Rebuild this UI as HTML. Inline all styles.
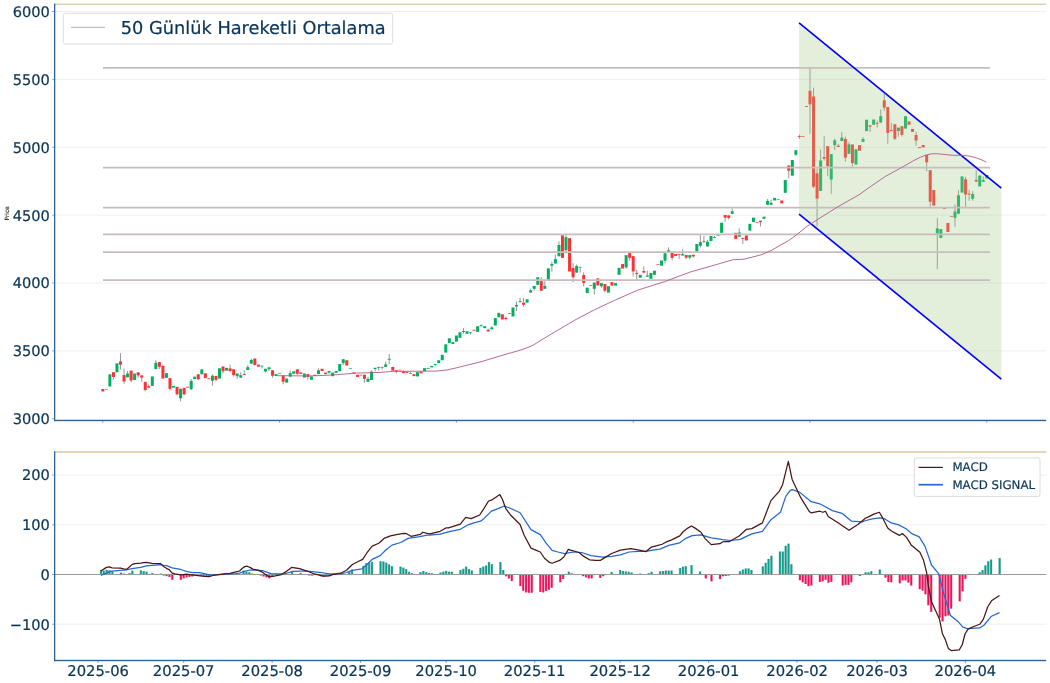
<!DOCTYPE html>
<html lang="tr"><head><meta charset="utf-8"><title>Grafik</title>
<style>html,body{margin:0;padding:0;background:#fff}svg{display:block}</style></head>
<body>
<svg width="1050" height="683" viewBox="0 0 1050 683" font-family="'DejaVu Sans', 'Liberation Sans', sans-serif" text-rendering="geometricPrecision">
<rect width="1050" height="683" fill="#fff"/>
<g id="price">
<line x1="54.8" x2="1046.2" y1="350.92" y2="350.92" stroke="#efefef" stroke-width="1"/>
<line x1="54.8" x2="1046.2" y1="283.03" y2="283.03" stroke="#efefef" stroke-width="1"/>
<line x1="54.8" x2="1046.2" y1="215.15" y2="215.15" stroke="#efefef" stroke-width="1"/>
<line x1="54.8" x2="1046.2" y1="147.27" y2="147.27" stroke="#efefef" stroke-width="1"/>
<line x1="54.8" x2="1046.2" y1="79.38" y2="79.38" stroke="#efefef" stroke-width="1"/>
<line x1="54.8" x2="1046.2" y1="11.50" y2="11.50" stroke="#efefef" stroke-width="1"/>
<g id="candles">
<rect x="101.30" y="389.05" width="3.0" height="2.38" fill="#fe3032"/>
<rect x="104.84" y="388.95" width="3.0" height="0.70" fill="#00b060"/>
<rect x="108.37" y="374.29" width="3.0" height="12.19" fill="#00b060"/>
<line x1="113.41" x2="113.41" y1="372.19" y2="379.52" stroke="#8a8a8a" stroke-width="0.9"/>
<rect x="111.91" y="372.19" width="3.0" height="4.76" fill="#fe3032"/>
<rect x="115.44" y="363.33" width="3.0" height="9.05" fill="#00b060"/>
<line x1="120.48" x2="120.48" y1="353.14" y2="369.52" stroke="#8a8a8a" stroke-width="0.9"/>
<rect x="118.98" y="361.43" width="3.0" height="3.33" fill="#fe3032"/>
<line x1="124.02" x2="124.02" y1="368.57" y2="383.81" stroke="#8a8a8a" stroke-width="0.9"/>
<rect x="122.52" y="375.05" width="3.0" height="6.38" fill="#fe3032"/>
<line x1="127.55" x2="127.55" y1="370.95" y2="377.33" stroke="#8a8a8a" stroke-width="0.9"/>
<rect x="126.05" y="373.52" width="3.0" height="3.81" fill="#00b060"/>
<line x1="131.09" x2="131.09" y1="370.67" y2="382.38" stroke="#8a8a8a" stroke-width="0.9"/>
<rect x="129.59" y="370.67" width="3.0" height="9.81" fill="#fe3032"/>
<rect x="133.12" y="373.52" width="3.0" height="6.48" fill="#00b060"/>
<line x1="138.16" x2="138.16" y1="372.38" y2="377.62" stroke="#8a8a8a" stroke-width="0.9"/>
<rect x="136.66" y="372.38" width="3.0" height="3.05" fill="#fe3032"/>
<line x1="141.70" x2="141.70" y1="375.43" y2="381.9" stroke="#8a8a8a" stroke-width="0.9"/>
<rect x="140.20" y="375.43" width="3.0" height="2.19" fill="#fe3032"/>
<line x1="145.23" x2="145.23" y1="381.9" y2="391.43" stroke="#8a8a8a" stroke-width="0.9"/>
<rect x="143.73" y="381.9" width="3.0" height="8.10" fill="#fe3032"/>
<line x1="148.77" x2="148.77" y1="384.29" y2="387.62" stroke="#8a8a8a" stroke-width="0.9"/>
<rect x="147.27" y="386.19" width="3.0" height="1.43" fill="#fe3032"/>
<rect x="150.80" y="376.38" width="3.0" height="9.52" fill="#00b060"/>
<line x1="155.84" x2="155.84" y1="360.19" y2="369.05" stroke="#8a8a8a" stroke-width="0.9"/>
<rect x="154.34" y="362.86" width="3.0" height="6.19" fill="#00b060"/>
<line x1="159.38" x2="159.38" y1="362.1" y2="369.05" stroke="#8a8a8a" stroke-width="0.9"/>
<rect x="157.88" y="362.1" width="3.0" height="4.76" fill="#fe3032"/>
<rect x="161.41" y="365.71" width="3.0" height="12.86" fill="#fe3032"/>
<rect x="164.95" y="373.14" width="3.0" height="4.76" fill="#00b060"/>
<line x1="169.98" x2="169.98" y1="378.1" y2="390.48" stroke="#8a8a8a" stroke-width="0.9"/>
<rect x="168.48" y="378.1" width="3.0" height="10.76" fill="#fe3032"/>
<rect x="172.02" y="385.9" width="3.0" height="1.72" fill="#00b060"/>
<line x1="177.06" x2="177.06" y1="386.86" y2="395.24" stroke="#8a8a8a" stroke-width="0.9"/>
<rect x="175.56" y="386.86" width="3.0" height="7.43" fill="#fe3032"/>
<line x1="180.59" x2="180.59" y1="388.76" y2="401.43" stroke="#8a8a8a" stroke-width="0.9"/>
<rect x="179.09" y="388.76" width="3.0" height="9.53" fill="#00b060"/>
<line x1="184.13" x2="184.13" y1="387.9" y2="395.24" stroke="#8a8a8a" stroke-width="0.9"/>
<rect x="182.63" y="387.9" width="3.0" height="6.39" fill="#fe3032"/>
<rect x="186.16" y="386.67" width="3.0" height="0.95" fill="#fe3032"/>
<line x1="191.20" x2="191.20" y1="379.05" y2="390.48" stroke="#8a8a8a" stroke-width="0.9"/>
<rect x="189.70" y="380.95" width="3.0" height="8.10" fill="#00b060"/>
<rect x="193.24" y="376.67" width="3.0" height="2.38" fill="#00b060"/>
<line x1="198.27" x2="198.27" y1="374.29" y2="380.0" stroke="#8a8a8a" stroke-width="0.9"/>
<rect x="196.77" y="374.29" width="3.0" height="4.95" fill="#fe3032"/>
<rect x="200.31" y="369.33" width="3.0" height="4.96" fill="#00b060"/>
<rect x="203.84" y="373.33" width="3.0" height="4.77" fill="#fe3032"/>
<rect x="207.38" y="378.38" width="3.0" height="0.86" fill="#fe3032"/>
<line x1="212.42" x2="212.42" y1="374.48" y2="385.71" stroke="#8a8a8a" stroke-width="0.9"/>
<rect x="210.92" y="375.71" width="3.0" height="5.05" fill="#00b060"/>
<line x1="215.95" x2="215.95" y1="376.0" y2="381.43" stroke="#8a8a8a" stroke-width="0.9"/>
<rect x="214.45" y="376.0" width="3.0" height="3.81" fill="#fe3032"/>
<rect x="217.99" y="368.29" width="3.0" height="10.28" fill="#00b060"/>
<line x1="223.02" x2="223.02" y1="366.48" y2="373.33" stroke="#8a8a8a" stroke-width="0.9"/>
<rect x="221.52" y="366.48" width="3.0" height="4.76" fill="#fe3032"/>
<rect x="225.06" y="367.81" width="3.0" height="2.86" fill="#00b060"/>
<line x1="230.10" x2="230.10" y1="364.76" y2="371.24" stroke="#8a8a8a" stroke-width="0.9"/>
<rect x="228.60" y="368.38" width="3.0" height="2.86" fill="#fe3032"/>
<line x1="233.63" x2="233.63" y1="369.33" y2="376.67" stroke="#8a8a8a" stroke-width="0.9"/>
<rect x="232.13" y="369.33" width="3.0" height="5.72" fill="#fe3032"/>
<line x1="237.17" x2="237.17" y1="373.52" y2="378.86" stroke="#8a8a8a" stroke-width="0.9"/>
<rect x="235.67" y="373.52" width="3.0" height="2.67" fill="#00b060"/>
<line x1="240.70" x2="240.70" y1="372.38" y2="377.62" stroke="#8a8a8a" stroke-width="0.9"/>
<rect x="239.20" y="375.24" width="3.0" height="2.38" fill="#00b060"/>
<line x1="244.24" x2="244.24" y1="370.48" y2="375.05" stroke="#8a8a8a" stroke-width="0.9"/>
<rect x="242.74" y="374.1" width="3.0" height="0.95" fill="#fe3032"/>
<line x1="247.78" x2="247.78" y1="365.24" y2="370.0" stroke="#8a8a8a" stroke-width="0.9"/>
<rect x="246.28" y="367.14" width="3.0" height="2.86" fill="#00b060"/>
<line x1="251.31" x2="251.31" y1="358.57" y2="363.62" stroke="#8a8a8a" stroke-width="0.9"/>
<rect x="249.81" y="360.0" width="3.0" height="3.62" fill="#00b060"/>
<line x1="254.85" x2="254.85" y1="358.57" y2="365.71" stroke="#8a8a8a" stroke-width="0.9"/>
<rect x="253.35" y="358.57" width="3.0" height="6.38" fill="#fe3032"/>
<rect x="256.88" y="364.57" width="3.0" height="2.10" fill="#fe3032"/>
<line x1="261.92" x2="261.92" y1="365.71" y2="368.57" stroke="#8a8a8a" stroke-width="0.9"/>
<rect x="260.42" y="365.71" width="3.0" height="0.77" fill="#00b060"/>
<line x1="265.46" x2="265.46" y1="368.76" y2="372.38" stroke="#8a8a8a" stroke-width="0.9"/>
<rect x="263.96" y="368.76" width="3.0" height="2.67" fill="#00b060"/>
<line x1="268.99" x2="268.99" y1="366.67" y2="370.95" stroke="#8a8a8a" stroke-width="0.9"/>
<rect x="267.49" y="367.43" width="3.0" height="1.62" fill="#00b060"/>
<line x1="272.53" x2="272.53" y1="370.29" y2="377.62" stroke="#8a8a8a" stroke-width="0.9"/>
<rect x="271.03" y="370.29" width="3.0" height="5.42" fill="#fe3032"/>
<rect x="274.56" y="374.1" width="3.0" height="1.90" fill="#00b060"/>
<rect x="278.10" y="373.14" width="3.0" height="0.70" fill="#00b060"/>
<line x1="283.14" x2="283.14" y1="375.71" y2="384.29" stroke="#8a8a8a" stroke-width="0.9"/>
<rect x="281.64" y="375.71" width="3.0" height="6.00" fill="#fe3032"/>
<rect x="285.17" y="378.57" width="3.0" height="4.10" fill="#00b060"/>
<line x1="290.21" x2="290.21" y1="370.48" y2="376.67" stroke="#8a8a8a" stroke-width="0.9"/>
<rect x="288.71" y="373.14" width="3.0" height="3.53" fill="#00b060"/>
<rect x="292.24" y="371.24" width="3.0" height="2.57" fill="#00b060"/>
<line x1="297.28" x2="297.28" y1="369.33" y2="374.76" stroke="#8a8a8a" stroke-width="0.9"/>
<rect x="295.78" y="369.33" width="3.0" height="4.48" fill="#fe3032"/>
<rect x="299.32" y="372.38" width="3.0" height="1.43" fill="#fe3032"/>
<rect x="302.85" y="373.52" width="3.0" height="4.10" fill="#00b060"/>
<line x1="307.89" x2="307.89" y1="374.1" y2="379.52" stroke="#8a8a8a" stroke-width="0.9"/>
<rect x="306.39" y="374.1" width="3.0" height="2.85" fill="#fe3032"/>
<rect x="309.92" y="376.38" width="3.0" height="3.43" fill="#00b060"/>
<rect x="313.46" y="374.76" width="3.0" height="1.24" fill="#fe3032"/>
<line x1="318.50" x2="318.50" y1="368.38" y2="374.1" stroke="#8a8a8a" stroke-width="0.9"/>
<rect x="317.00" y="370.29" width="3.0" height="3.81" fill="#00b060"/>
<rect x="320.53" y="368.76" width="3.0" height="2.19" fill="#fe3032"/>
<rect x="324.07" y="372.57" width="3.0" height="1.53" fill="#fe3032"/>
<line x1="329.10" x2="329.10" y1="370.95" y2="373.81" stroke="#8a8a8a" stroke-width="0.9"/>
<rect x="327.60" y="370.95" width="3.0" height="1.62" fill="#00b060"/>
<rect x="331.14" y="372.57" width="3.0" height="3.62" fill="#00b060"/>
<rect x="334.68" y="370.95" width="3.0" height="1.91" fill="#00b060"/>
<rect x="338.21" y="364.0" width="3.0" height="7.24" fill="#00b060"/>
<line x1="343.25" x2="343.25" y1="359.24" y2="364.95" stroke="#8a8a8a" stroke-width="0.9"/>
<rect x="341.75" y="359.24" width="3.0" height="3.81" fill="#00b060"/>
<rect x="345.28" y="360.19" width="3.0" height="5.33" fill="#fe3032"/>
<rect x="348.82" y="368.19" width="3.0" height="0.76" fill="#00b060"/>
<rect x="352.36" y="372.38" width="3.0" height="1.14" fill="#fe3032"/>
<rect x="355.89" y="374.76" width="3.0" height="2.19" fill="#fe3032"/>
<rect x="359.43" y="374.76" width="3.0" height="0.70" fill="#fe3032"/>
<line x1="364.46" x2="364.46" y1="374.76" y2="382.86" stroke="#8a8a8a" stroke-width="0.9"/>
<rect x="362.96" y="374.76" width="3.0" height="4.10" fill="#fe3032"/>
<line x1="368.00" x2="368.00" y1="376.67" y2="381.9" stroke="#8a8a8a" stroke-width="0.9"/>
<rect x="366.50" y="378.86" width="3.0" height="3.04" fill="#00b060"/>
<line x1="371.54" x2="371.54" y1="370.29" y2="380.0" stroke="#8a8a8a" stroke-width="0.9"/>
<rect x="370.04" y="371.62" width="3.0" height="8.38" fill="#00b060"/>
<line x1="375.07" x2="375.07" y1="367.81" y2="371.43" stroke="#8a8a8a" stroke-width="0.9"/>
<rect x="373.57" y="367.81" width="3.0" height="1.24" fill="#00b060"/>
<line x1="378.61" x2="378.61" y1="366.95" y2="370.48" stroke="#8a8a8a" stroke-width="0.9"/>
<rect x="377.11" y="366.95" width="3.0" height="0.86" fill="#00b060"/>
<line x1="382.14" x2="382.14" y1="366.9" y2="369.48" stroke="#8a8a8a" stroke-width="0.9"/>
<rect x="380.64" y="366.9" width="3.0" height="0.70" fill="#fe3032"/>
<line x1="385.68" x2="385.68" y1="361.67" y2="366.9" stroke="#8a8a8a" stroke-width="0.9"/>
<rect x="384.18" y="364.33" width="3.0" height="2.57" fill="#00b060"/>
<line x1="389.22" x2="389.22" y1="354.05" y2="364.05" stroke="#8a8a8a" stroke-width="0.9"/>
<rect x="387.72" y="358.81" width="3.0" height="0.95" fill="#00b060"/>
<rect x="391.25" y="366.9" width="3.0" height="3.81" fill="#fe3032"/>
<line x1="396.29" x2="396.29" y1="370.24" y2="373.57" stroke="#8a8a8a" stroke-width="0.9"/>
<rect x="394.79" y="370.24" width="3.0" height="1.43" fill="#fe3032"/>
<rect x="398.32" y="369.76" width="3.0" height="0.70" fill="#fe3032"/>
<line x1="403.36" x2="403.36" y1="370.24" y2="373.1" stroke="#8a8a8a" stroke-width="0.9"/>
<rect x="401.86" y="371.38" width="3.0" height="1.72" fill="#fe3032"/>
<rect x="405.40" y="371.67" width="3.0" height="1.23" fill="#fe3032"/>
<line x1="410.43" x2="410.43" y1="371.95" y2="373.57" stroke="#8a8a8a" stroke-width="0.9"/>
<rect x="408.93" y="373.1" width="3.0" height="0.70" fill="#fe3032"/>
<rect x="412.47" y="374.24" width="3.0" height="1.90" fill="#fe3032"/>
<rect x="416.00" y="372.14" width="3.0" height="4.29" fill="#00b060"/>
<rect x="419.54" y="371.67" width="3.0" height="1.62" fill="#fe3032"/>
<rect x="423.08" y="368.14" width="3.0" height="3.05" fill="#00b060"/>
<rect x="426.61" y="367.86" width="3.0" height="0.95" fill="#00b060"/>
<rect x="430.15" y="365.95" width="3.0" height="1.43" fill="#00b060"/>
<line x1="435.18" x2="435.18" y1="364.05" y2="366.43" stroke="#8a8a8a" stroke-width="0.9"/>
<rect x="433.68" y="364.05" width="3.0" height="0.95" fill="#00b060"/>
<rect x="437.22" y="360.24" width="3.0" height="2.86" fill="#00b060"/>
<rect x="440.76" y="354.81" width="3.0" height="5.43" fill="#00b060"/>
<rect x="444.29" y="344.33" width="3.0" height="8.29" fill="#00b060"/>
<rect x="447.83" y="338.33" width="3.0" height="4.77" fill="#00b060"/>
<rect x="451.36" y="342.14" width="3.0" height="1.91" fill="#00b060"/>
<rect x="454.90" y="335.48" width="3.0" height="6.19" fill="#00b060"/>
<rect x="458.44" y="332.33" width="3.0" height="5.53" fill="#00b060"/>
<line x1="463.47" x2="463.47" y1="327.86" y2="333.57" stroke="#8a8a8a" stroke-width="0.9"/>
<rect x="461.97" y="331.0" width="3.0" height="0.95" fill="#fe3032"/>
<rect x="465.51" y="331.19" width="3.0" height="2.67" fill="#00b060"/>
<line x1="470.54" x2="470.54" y1="332.33" y2="334.52" stroke="#8a8a8a" stroke-width="0.9"/>
<rect x="469.04" y="332.33" width="3.0" height="0.77" fill="#00b060"/>
<rect x="472.58" y="329.76" width="3.0" height="0.95" fill="#fe3032"/>
<rect x="476.12" y="326.19" width="3.0" height="5.71" fill="#00b060"/>
<line x1="481.15" x2="481.15" y1="324.29" y2="326.19" stroke="#8a8a8a" stroke-width="0.9"/>
<rect x="479.65" y="325.24" width="3.0" height="0.95" fill="#00b060"/>
<rect x="483.19" y="326.19" width="3.0" height="1.91" fill="#00b060"/>
<line x1="488.22" x2="488.22" y1="328.57" y2="331.43" stroke="#8a8a8a" stroke-width="0.9"/>
<rect x="486.72" y="329.71" width="3.0" height="1.72" fill="#fe3032"/>
<line x1="491.76" x2="491.76" y1="326.19" y2="329.33" stroke="#8a8a8a" stroke-width="0.9"/>
<rect x="490.26" y="327.43" width="3.0" height="1.90" fill="#00b060"/>
<rect x="493.80" y="318.1" width="3.0" height="7.42" fill="#00b060"/>
<rect x="497.33" y="312.86" width="3.0" height="4.47" fill="#00b060"/>
<rect x="500.87" y="314.29" width="3.0" height="5.23" fill="#fe3032"/>
<line x1="505.90" x2="505.90" y1="316.67" y2="320.48" stroke="#8a8a8a" stroke-width="0.9"/>
<rect x="504.40" y="317.9" width="3.0" height="1.15" fill="#fe3032"/>
<rect x="507.94" y="313.14" width="3.0" height="0.70" fill="#fe3032"/>
<rect x="511.48" y="307.43" width="3.0" height="9.05" fill="#00b060"/>
<line x1="516.51" x2="516.51" y1="301.43" y2="310.95" stroke="#8a8a8a" stroke-width="0.9"/>
<rect x="515.01" y="304.95" width="3.0" height="1.53" fill="#00b060"/>
<line x1="520.05" x2="520.05" y1="297.9" y2="302.86" stroke="#8a8a8a" stroke-width="0.9"/>
<rect x="518.55" y="301.14" width="3.0" height="0.76" fill="#00b060"/>
<line x1="523.58" x2="523.58" y1="298.1" y2="306.86" stroke="#8a8a8a" stroke-width="0.9"/>
<rect x="522.08" y="302.67" width="3.0" height="2.09" fill="#fe3032"/>
<rect x="525.62" y="299.24" width="3.0" height="3.43" fill="#00b060"/>
<line x1="530.66" x2="530.66" y1="288.57" y2="292.57" stroke="#8a8a8a" stroke-width="0.9"/>
<rect x="529.16" y="290.29" width="3.0" height="2.28" fill="#00b060"/>
<line x1="534.19" x2="534.19" y1="285.95" y2="290.71" stroke="#8a8a8a" stroke-width="0.9"/>
<rect x="532.69" y="285.95" width="3.0" height="2.86" fill="#00b060"/>
<rect x="536.23" y="277.19" width="3.0" height="7.62" fill="#00b060"/>
<line x1="541.26" x2="541.26" y1="276.9" y2="290.71" stroke="#8a8a8a" stroke-width="0.9"/>
<rect x="539.76" y="281.19" width="3.0" height="9.52" fill="#fe3032"/>
<line x1="544.80" x2="544.80" y1="281.19" y2="288.81" stroke="#8a8a8a" stroke-width="0.9"/>
<rect x="543.30" y="285.95" width="3.0" height="2.86" fill="#00b060"/>
<rect x="546.84" y="268.33" width="3.0" height="11.43" fill="#00b060"/>
<line x1="551.87" x2="551.87" y1="261.67" y2="271.67" stroke="#8a8a8a" stroke-width="0.9"/>
<rect x="550.37" y="264.05" width="3.0" height="1.71" fill="#00b060"/>
<line x1="555.41" x2="555.41" y1="254.52" y2="263.57" stroke="#8a8a8a" stroke-width="0.9"/>
<rect x="553.91" y="259.1" width="3.0" height="4.47" fill="#00b060"/>
<line x1="558.94" x2="558.94" y1="241.38" y2="256.24" stroke="#8a8a8a" stroke-width="0.9"/>
<rect x="557.44" y="245.0" width="3.0" height="11.24" fill="#00b060"/>
<rect x="560.98" y="235.29" width="3.0" height="22.57" fill="#fe3032"/>
<line x1="566.02" x2="566.02" y1="234.52" y2="253.57" stroke="#8a8a8a" stroke-width="0.9"/>
<rect x="564.52" y="237.19" width="3.0" height="13.05" fill="#00b060"/>
<rect x="568.05" y="238.14" width="3.0" height="33.34" fill="#fe3032"/>
<line x1="573.09" x2="573.09" y1="263.1" y2="282.14" stroke="#8a8a8a" stroke-width="0.9"/>
<rect x="571.59" y="268.05" width="3.0" height="9.14" fill="#fe3032"/>
<line x1="576.62" x2="576.62" y1="264.52" y2="272.62" stroke="#8a8a8a" stroke-width="0.9"/>
<rect x="575.12" y="265.95" width="3.0" height="6.67" fill="#00b060"/>
<line x1="580.16" x2="580.16" y1="266.9" y2="272.62" stroke="#8a8a8a" stroke-width="0.9"/>
<rect x="578.66" y="266.9" width="3.0" height="0.70" fill="#00b060"/>
<line x1="583.70" x2="583.70" y1="272.14" y2="286.43" stroke="#8a8a8a" stroke-width="0.9"/>
<rect x="582.20" y="275.0" width="3.0" height="7.90" fill="#fe3032"/>
<rect x="585.73" y="287.67" width="3.0" height="5.43" fill="#00b060"/>
<rect x="589.27" y="285.0" width="3.0" height="0.70" fill="#fe3032"/>
<line x1="594.30" x2="594.30" y1="282.62" y2="294.52" stroke="#8a8a8a" stroke-width="0.9"/>
<rect x="592.80" y="282.62" width="3.0" height="6.19" fill="#00b060"/>
<rect x="596.34" y="278.33" width="3.0" height="7.15" fill="#fe3032"/>
<line x1="601.38" x2="601.38" y1="283.1" y2="287.86" stroke="#8a8a8a" stroke-width="0.9"/>
<rect x="599.88" y="283.1" width="3.0" height="3.14" fill="#00b060"/>
<line x1="604.91" x2="604.91" y1="284.05" y2="292.62" stroke="#8a8a8a" stroke-width="0.9"/>
<rect x="603.41" y="284.05" width="3.0" height="6.66" fill="#fe3032"/>
<rect x="606.95" y="286.24" width="3.0" height="6.38" fill="#00b060"/>
<rect x="610.48" y="282.14" width="3.0" height="3.53" fill="#fe3032"/>
<rect x="614.02" y="283.1" width="3.0" height="2.57" fill="#00b060"/>
<rect x="617.56" y="267.86" width="3.0" height="6.95" fill="#00b060"/>
<rect x="621.09" y="264.05" width="3.0" height="4.47" fill="#fe3032"/>
<line x1="626.13" x2="626.13" y1="255.19" y2="268.81" stroke="#8a8a8a" stroke-width="0.9"/>
<rect x="624.63" y="255.19" width="3.0" height="12.19" fill="#00b060"/>
<line x1="629.66" x2="629.66" y1="253.1" y2="260.71" stroke="#8a8a8a" stroke-width="0.9"/>
<rect x="628.16" y="253.1" width="3.0" height="4.76" fill="#fe3032"/>
<line x1="633.20" x2="633.20" y1="256.14" y2="276.43" stroke="#8a8a8a" stroke-width="0.9"/>
<rect x="631.70" y="256.14" width="3.0" height="15.24" fill="#fe3032"/>
<line x1="636.74" x2="636.74" y1="269.76" y2="279.76" stroke="#8a8a8a" stroke-width="0.9"/>
<rect x="635.24" y="272.9" width="3.0" height="1.15" fill="#fe3032"/>
<rect x="638.77" y="274.81" width="3.0" height="2.86" fill="#00b060"/>
<line x1="643.81" x2="643.81" y1="266.43" y2="272.62" stroke="#8a8a8a" stroke-width="0.9"/>
<rect x="642.31" y="271.0" width="3.0" height="1.62" fill="#fe3032"/>
<line x1="647.34" x2="647.34" y1="270.71" y2="276.71" stroke="#8a8a8a" stroke-width="0.9"/>
<rect x="645.84" y="275.48" width="3.0" height="1.23" fill="#00b060"/>
<rect x="649.38" y="272.9" width="3.0" height="5.91" fill="#00b060"/>
<rect x="652.92" y="270.71" width="3.0" height="4.10" fill="#00b060"/>
<rect x="656.45" y="264.05" width="3.0" height="0.70" fill="#fe3032"/>
<rect x="659.99" y="260.52" width="3.0" height="5.15" fill="#00b060"/>
<line x1="665.02" x2="665.02" y1="253.29" y2="263.57" stroke="#8a8a8a" stroke-width="0.9"/>
<rect x="663.52" y="253.29" width="3.0" height="7.42" fill="#00b060"/>
<line x1="668.56" x2="668.56" y1="247.38" y2="252.33" stroke="#8a8a8a" stroke-width="0.9"/>
<rect x="667.06" y="250.24" width="3.0" height="2.09" fill="#00b060"/>
<line x1="672.10" x2="672.10" y1="253.1" y2="260.24" stroke="#8a8a8a" stroke-width="0.9"/>
<rect x="670.60" y="253.1" width="3.0" height="4.76" fill="#fe3032"/>
<rect x="674.13" y="254.05" width="3.0" height="1.90" fill="#fe3032"/>
<line x1="679.17" x2="679.17" y1="254.33" y2="258.81" stroke="#8a8a8a" stroke-width="0.9"/>
<rect x="677.67" y="254.33" width="3.0" height="0.70" fill="#fe3032"/>
<line x1="682.70" x2="682.70" y1="248.81" y2="255.48" stroke="#8a8a8a" stroke-width="0.9"/>
<rect x="681.20" y="254.05" width="3.0" height="1.43" fill="#00b060"/>
<line x1="686.24" x2="686.24" y1="255.05" y2="259.05" stroke="#8a8a8a" stroke-width="0.9"/>
<rect x="684.74" y="255.05" width="3.0" height="2.57" fill="#fe3032"/>
<line x1="689.78" x2="689.78" y1="255.05" y2="259.05" stroke="#8a8a8a" stroke-width="0.9"/>
<rect x="688.28" y="255.05" width="3.0" height="2.57" fill="#00b060"/>
<line x1="693.31" x2="693.31" y1="254.76" y2="257.62" stroke="#8a8a8a" stroke-width="0.9"/>
<rect x="691.81" y="254.76" width="3.0" height="1.62" fill="#fe3032"/>
<rect x="695.35" y="244.0" width="3.0" height="7.43" fill="#00b060"/>
<line x1="700.38" x2="700.38" y1="235.24" y2="247.43" stroke="#8a8a8a" stroke-width="0.9"/>
<rect x="698.88" y="242.1" width="3.0" height="3.61" fill="#00b060"/>
<line x1="703.92" x2="703.92" y1="236.0" y2="243.05" stroke="#8a8a8a" stroke-width="0.9"/>
<rect x="702.42" y="241.14" width="3.0" height="0.70" fill="#fe3032"/>
<line x1="707.46" x2="707.46" y1="239.81" y2="246.48" stroke="#8a8a8a" stroke-width="0.9"/>
<rect x="705.96" y="241.71" width="3.0" height="4.77" fill="#00b060"/>
<rect x="709.49" y="236.0" width="3.0" height="5.14" fill="#00b060"/>
<line x1="714.53" x2="714.53" y1="236.0" y2="237.9" stroke="#8a8a8a" stroke-width="0.9"/>
<rect x="713.03" y="237.14" width="3.0" height="0.76" fill="#00b060"/>
<rect x="716.56" y="235.24" width="3.0" height="0.70" fill="#00b060"/>
<rect x="720.10" y="222.67" width="3.0" height="10.19" fill="#00b060"/>
<line x1="725.14" x2="725.14" y1="215.05" y2="221.71" stroke="#8a8a8a" stroke-width="0.9"/>
<rect x="723.64" y="215.05" width="3.0" height="2.57" fill="#fe3032"/>
<line x1="728.67" x2="728.67" y1="215.43" y2="219.52" stroke="#8a8a8a" stroke-width="0.9"/>
<rect x="727.17" y="215.43" width="3.0" height="2.47" fill="#fe3032"/>
<line x1="732.21" x2="732.21" y1="208.38" y2="213.81" stroke="#8a8a8a" stroke-width="0.9"/>
<rect x="730.71" y="211.24" width="3.0" height="2.57" fill="#00b060"/>
<rect x="734.24" y="232.86" width="3.0" height="6.00" fill="#fe3032"/>
<line x1="739.28" x2="739.28" y1="228.38" y2="236.67" stroke="#8a8a8a" stroke-width="0.9"/>
<rect x="737.78" y="232.57" width="3.0" height="4.10" fill="#00b060"/>
<line x1="742.82" x2="742.82" y1="237.9" y2="244.0" stroke="#8a8a8a" stroke-width="0.9"/>
<rect x="741.32" y="237.9" width="3.0" height="0.96" fill="#fe3032"/>
<rect x="744.85" y="235.43" width="3.0" height="5.05" fill="#fe3032"/>
<rect x="748.39" y="223.81" width="3.0" height="6.86" fill="#00b060"/>
<rect x="751.92" y="217.62" width="3.0" height="4.48" fill="#00b060"/>
<rect x="755.46" y="222.1" width="3.0" height="0.70" fill="#fe3032"/>
<line x1="760.50" x2="760.50" y1="220.76" y2="226.48" stroke="#8a8a8a" stroke-width="0.9"/>
<rect x="759.00" y="220.76" width="3.0" height="1.34" fill="#fe3032"/>
<rect x="762.53" y="216.67" width="3.0" height="2.19" fill="#00b060"/>
<line x1="767.57" x2="767.57" y1="199.05" y2="204.76" stroke="#8a8a8a" stroke-width="0.9"/>
<rect x="766.07" y="200.95" width="3.0" height="3.81" fill="#00b060"/>
<line x1="771.10" x2="771.10" y1="199.52" y2="204.76" stroke="#8a8a8a" stroke-width="0.9"/>
<rect x="769.60" y="202.86" width="3.0" height="1.90" fill="#00b060"/>
<rect x="773.14" y="197.9" width="3.0" height="2.58" fill="#00b060"/>
<rect x="776.68" y="199.24" width="3.0" height="0.70" fill="#00b060"/>
<rect x="780.21" y="200.48" width="3.0" height="2.85" fill="#fe3032"/>
<rect x="783.75" y="180.0" width="3.0" height="12.86" fill="#00b060"/>
<line x1="788.78" x2="788.78" y1="165.52" y2="178.1" stroke="#8a8a8a" stroke-width="0.9"/>
<rect x="787.28" y="165.52" width="3.0" height="5.15" fill="#fe3032"/>
<rect x="790.82" y="160.0" width="3.0" height="15.71" fill="#00b060"/>
<line x1="795.86" x2="795.86" y1="150.29" y2="155.71" stroke="#8a8a8a" stroke-width="0.9"/>
<rect x="794.36" y="150.29" width="3.0" height="4.47" fill="#00b060"/>
<line x1="799.39" x2="799.39" y1="134.5" y2="139.0" stroke="#8a8a8a" stroke-width="0.9"/>
<rect x="797.89" y="136.0" width="3.0" height="0.90" fill="#fe3032"/>
<rect x="801.43" y="136.1" width="3.0" height="0.80" fill="#fe3032"/>
<rect x="804.96" y="106.0" width="3.0" height="0.90" fill="#fe3032"/>
<line x1="810.00" x2="810.00" y1="68.2" y2="134.0" stroke="#8a8a8a" stroke-width="0.9"/>
<rect x="808.50" y="90.8" width="3.0" height="13.60" fill="#fe3032"/>
<line x1="813.54" x2="813.54" y1="87.7" y2="188.0" stroke="#8a8a8a" stroke-width="0.9"/>
<rect x="812.04" y="96.5" width="3.0" height="90.20" fill="#fe3032"/>
<line x1="817.07" x2="817.07" y1="168.6" y2="226.4" stroke="#8a8a8a" stroke-width="0.9"/>
<rect x="815.57" y="173.3" width="3.0" height="25.30" fill="#fe3032"/>
<line x1="820.61" x2="820.61" y1="149.5" y2="191.0" stroke="#8a8a8a" stroke-width="0.9"/>
<rect x="819.11" y="160.5" width="3.0" height="30.50" fill="#00b060"/>
<line x1="824.14" x2="824.14" y1="136.2" y2="160.5" stroke="#8a8a8a" stroke-width="0.9"/>
<rect x="822.64" y="157.1" width="3.0" height="1.50" fill="#fe3032"/>
<line x1="827.68" x2="827.68" y1="146.2" y2="176.2" stroke="#8a8a8a" stroke-width="0.9"/>
<rect x="826.18" y="146.2" width="3.0" height="20.00" fill="#fe3032"/>
<line x1="831.22" x2="831.22" y1="154.1" y2="193.8" stroke="#8a8a8a" stroke-width="0.9"/>
<rect x="829.72" y="154.1" width="3.0" height="25.40" fill="#00b060"/>
<line x1="834.75" x2="834.75" y1="138.6" y2="150.0" stroke="#8a8a8a" stroke-width="0.9"/>
<rect x="833.25" y="140.3" width="3.0" height="4.80" fill="#00b060"/>
<line x1="838.29" x2="838.29" y1="143.8" y2="147.0" stroke="#8a8a8a" stroke-width="0.9"/>
<rect x="836.79" y="145.7" width="3.0" height="1.30" fill="#fe3032"/>
<line x1="841.82" x2="841.82" y1="131.9" y2="141.0" stroke="#8a8a8a" stroke-width="0.9"/>
<rect x="840.32" y="137.6" width="3.0" height="3.40" fill="#00b060"/>
<line x1="845.36" x2="845.36" y1="136.7" y2="161.7" stroke="#8a8a8a" stroke-width="0.9"/>
<rect x="843.86" y="139.0" width="3.0" height="18.60" fill="#fe3032"/>
<line x1="848.90" x2="848.90" y1="141.9" y2="153.8" stroke="#8a8a8a" stroke-width="0.9"/>
<rect x="847.40" y="144.3" width="3.0" height="9.50" fill="#00b060"/>
<line x1="852.43" x2="852.43" y1="144.5" y2="166.7" stroke="#8a8a8a" stroke-width="0.9"/>
<rect x="850.93" y="144.5" width="3.0" height="18.50" fill="#fe3032"/>
<rect x="854.47" y="149.2" width="3.0" height="15.40" fill="#00b060"/>
<rect x="858.00" y="145.2" width="3.0" height="5.50" fill="#fe3032"/>
<line x1="863.04" x2="863.04" y1="137.1" y2="141.9" stroke="#8a8a8a" stroke-width="0.9"/>
<rect x="861.54" y="139.0" width="3.0" height="2.90" fill="#00b060"/>
<rect x="865.08" y="119.7" width="3.0" height="11.40" fill="#00b060"/>
<line x1="870.11" x2="870.11" y1="125.4" y2="131.9" stroke="#8a8a8a" stroke-width="0.9"/>
<rect x="868.61" y="125.4" width="3.0" height="1.30" fill="#fe3032"/>
<rect x="872.15" y="119.5" width="3.0" height="5.30" fill="#00b060"/>
<line x1="877.18" x2="877.18" y1="120.5" y2="127.6" stroke="#8a8a8a" stroke-width="0.9"/>
<rect x="875.68" y="122.9" width="3.0" height="0.90" fill="#fe3032"/>
<line x1="880.72" x2="880.72" y1="109.5" y2="123.3" stroke="#8a8a8a" stroke-width="0.9"/>
<rect x="879.22" y="116.2" width="3.0" height="6.20" fill="#00b060"/>
<line x1="884.26" x2="884.26" y1="93.8" y2="111.0" stroke="#8a8a8a" stroke-width="0.9"/>
<rect x="882.76" y="100.3" width="3.0" height="7.30" fill="#fe3032"/>
<line x1="887.79" x2="887.79" y1="107.0" y2="143.8" stroke="#8a8a8a" stroke-width="0.9"/>
<rect x="886.29" y="107.0" width="3.0" height="25.90" fill="#fe3032"/>
<line x1="891.33" x2="891.33" y1="122.9" y2="131.1" stroke="#8a8a8a" stroke-width="0.9"/>
<rect x="889.83" y="130.0" width="3.0" height="1.10" fill="#fe3032"/>
<line x1="894.86" x2="894.86" y1="124.3" y2="140.0" stroke="#8a8a8a" stroke-width="0.9"/>
<rect x="893.36" y="124.3" width="3.0" height="14.50" fill="#fe3032"/>
<line x1="898.40" x2="898.40" y1="127.6" y2="136.7" stroke="#8a8a8a" stroke-width="0.9"/>
<rect x="896.90" y="127.6" width="3.0" height="3.40" fill="#00b060"/>
<line x1="901.94" x2="901.94" y1="126.2" y2="136.5" stroke="#8a8a8a" stroke-width="0.9"/>
<rect x="900.44" y="126.2" width="3.0" height="8.60" fill="#fe3032"/>
<rect x="903.97" y="116.2" width="3.0" height="12.40" fill="#00b060"/>
<rect x="907.51" y="121.4" width="3.0" height="3.40" fill="#fe3032"/>
<rect x="911.04" y="128.9" width="3.0" height="3.00" fill="#fe3032"/>
<line x1="916.08" x2="916.08" y1="131.9" y2="145.7" stroke="#8a8a8a" stroke-width="0.9"/>
<rect x="914.58" y="135.0" width="3.0" height="5.50" fill="#fe3032"/>
<rect x="918.12" y="147.1" width="3.0" height="1.00" fill="#fe3032"/>
<rect x="921.65" y="145.0" width="3.0" height="2.40" fill="#fe3032"/>
<line x1="926.69" x2="926.69" y1="155.0" y2="171.2" stroke="#8a8a8a" stroke-width="0.9"/>
<rect x="925.19" y="155.0" width="3.0" height="7.30" fill="#fe3032"/>
<line x1="930.22" x2="930.22" y1="170.2" y2="206.6" stroke="#8a8a8a" stroke-width="0.9"/>
<rect x="928.72" y="170.2" width="3.0" height="31.50" fill="#fe3032"/>
<rect x="932.26" y="190.0" width="3.0" height="15.60" fill="#fe3032"/>
<line x1="937.30" x2="937.30" y1="218.1" y2="269.2" stroke="#8a8a8a" stroke-width="0.9"/>
<rect x="935.80" y="228.3" width="3.0" height="5.20" fill="#00b060"/>
<rect x="939.33" y="229.1" width="3.0" height="8.80" fill="#00b060"/>
<rect x="942.87" y="208.0" width="3.0" height="1.00" fill="#fe3032"/>
<rect x="946.40" y="223.0" width="3.0" height="9.00" fill="#fe3032"/>
<rect x="949.94" y="216.2" width="3.0" height="0.70" fill="#fe3032"/>
<line x1="954.98" x2="954.98" y1="204.6" y2="226.9" stroke="#8a8a8a" stroke-width="0.9"/>
<rect x="953.48" y="211.5" width="3.0" height="6.30" fill="#00b060"/>
<line x1="958.51" x2="958.51" y1="190.2" y2="213.7" stroke="#8a8a8a" stroke-width="0.9"/>
<rect x="957.01" y="195.3" width="3.0" height="18.40" fill="#00b060"/>
<rect x="960.55" y="176.4" width="3.0" height="16.20" fill="#00b060"/>
<line x1="965.58" x2="965.58" y1="176.9" y2="206.8" stroke="#8a8a8a" stroke-width="0.9"/>
<rect x="964.08" y="179.3" width="3.0" height="15.20" fill="#fe3032"/>
<line x1="969.12" x2="969.12" y1="189.8" y2="200.7" stroke="#8a8a8a" stroke-width="0.9"/>
<rect x="967.62" y="193.6" width="3.0" height="0.90" fill="#fe3032"/>
<line x1="972.66" x2="972.66" y1="191.2" y2="200.7" stroke="#8a8a8a" stroke-width="0.9"/>
<rect x="971.16" y="194.0" width="3.0" height="4.80" fill="#00b060"/>
<line x1="976.19" x2="976.19" y1="170.0" y2="182.3" stroke="#8a8a8a" stroke-width="0.9"/>
<rect x="974.69" y="180.0" width="3.0" height="1.40" fill="#fe3032"/>
<rect x="978.23" y="175.5" width="3.0" height="10.90" fill="#00b060"/>
<line x1="983.26" x2="983.26" y1="176.4" y2="181.7" stroke="#8a8a8a" stroke-width="0.9"/>
<rect x="981.76" y="180.0" width="3.0" height="1.70" fill="#00b060"/>
<rect x="985.30" y="175.0" width="3.0" height="3.50" fill="#00b060"/>
</g>
<polygon points="799.05,22.9 1001.3,188.1 1001.3,379.2 799.05,214.05" fill="#a2ca87" fill-opacity="0.30"/>
<line x1="103" x2="990" y1="67.9" y2="67.9" stroke="#c9bcbe" stroke-width="1.7"/>
<line x1="103" x2="990" y1="167.6" y2="167.6" stroke="#c9bcbe" stroke-width="1.7"/>
<line x1="103" x2="990" y1="207.6" y2="207.6" stroke="#c9bcbe" stroke-width="1.7"/>
<line x1="103" x2="990" y1="234.3" y2="234.3" stroke="#c9bcbe" stroke-width="1.7"/>
<line x1="103" x2="990" y1="252.1" y2="252.1" stroke="#c9bcbe" stroke-width="1.7"/>
<line x1="103" x2="990" y1="280.2" y2="280.2" stroke="#c9bcbe" stroke-width="1.7"/>
<line x1="799.05" y1="22.9" x2="1001.3" y2="188.1" stroke="#0000ff" stroke-width="1.65"/>
<line x1="799.05" y1="214.05" x2="1001.3" y2="379.2" stroke="#0000ff" stroke-width="1.65"/>
<polyline points="276.2,375.7 285,375.7 308.8,376 332.6,375 356.4,373.1 380,372.4 392.4,371.4 418,371.2 437,371 446.7,370 456.2,367.9 465.7,365.5 480,362 505,354.5 517.4,351 526,348.2 533,345.3 541,340.2 553,333 575,320 595,309.5 615.7,299.8 637.6,290.2 664.3,281.7 690,272.1 715.5,264.8 732.6,259.8 744,259.2 761.2,254.8 771,250.6 780,245.4 788.8,240.5 797.6,234 806.3,226.9 815.1,221.1 823.9,215.5 838,206.7 850.3,199.7 859,194.8 871.3,186 885.4,176.4 894.2,171.6 903,166.7 913.5,160.7 920.5,157.2 925.8,155.1 931,153.9 936.3,153.7 944,154.4 952.6,155.3 964,155.3 970,156.2 976.4,157.9 982,160 986.4,162.1" fill="none" stroke="#b05a8a" stroke-width="0.9" stroke-linejoin="round"/>
<rect x="54.8" y="3.5999999999999996" width="991.4000000000001" height="1.4" fill="#d9cfa9"/>
<rect x="54.0" y="419.75" width="992.2" height="1.4" fill="#2f6396"/>
<rect x="54.0" y="3.5999999999999996" width="1.3" height="417.55" fill="#2f6396"/>
<line x1="52.099999999999994" x2="54.0" y1="418.80" y2="418.80" stroke="#2f6396" stroke-width="0.7" stroke-opacity="0.8"/>
<text x="49.9" y="424.15" font-size="14.6" stroke="#0a3558" stroke-width="0.22" fill="#0a3558" text-anchor="end">3000</text>
<line x1="52.099999999999994" x2="54.0" y1="350.92" y2="350.92" stroke="#2f6396" stroke-width="0.7" stroke-opacity="0.8"/>
<text x="49.9" y="356.27" font-size="14.6" stroke="#0a3558" stroke-width="0.22" fill="#0a3558" text-anchor="end">3500</text>
<line x1="52.099999999999994" x2="54.0" y1="283.03" y2="283.03" stroke="#2f6396" stroke-width="0.7" stroke-opacity="0.8"/>
<text x="49.9" y="288.38" font-size="14.6" stroke="#0a3558" stroke-width="0.22" fill="#0a3558" text-anchor="end">4000</text>
<line x1="52.099999999999994" x2="54.0" y1="215.15" y2="215.15" stroke="#2f6396" stroke-width="0.7" stroke-opacity="0.8"/>
<text x="49.9" y="220.50" font-size="14.6" stroke="#0a3558" stroke-width="0.22" fill="#0a3558" text-anchor="end">4500</text>
<line x1="52.099999999999994" x2="54.0" y1="147.27" y2="147.27" stroke="#2f6396" stroke-width="0.7" stroke-opacity="0.8"/>
<text x="49.9" y="152.62" font-size="14.6" stroke="#0a3558" stroke-width="0.22" fill="#0a3558" text-anchor="end">5000</text>
<line x1="52.099999999999994" x2="54.0" y1="79.38" y2="79.38" stroke="#2f6396" stroke-width="0.7" stroke-opacity="0.8"/>
<text x="49.9" y="84.73" font-size="14.6" stroke="#0a3558" stroke-width="0.22" fill="#0a3558" text-anchor="end">5500</text>
<line x1="52.099999999999994" x2="54.0" y1="11.50" y2="11.50" stroke="#2f6396" stroke-width="0.7" stroke-opacity="0.8"/>
<text x="49.9" y="16.85" font-size="14.6" stroke="#0a3558" stroke-width="0.22" fill="#0a3558" text-anchor="end">6000</text>
<line x1="102.80" x2="102.80" y1="420.2" y2="422.8" stroke="#2f6396" stroke-width="0.7" stroke-opacity="0.8"/>
<line x1="279.60" x2="279.60" y1="420.2" y2="422.8" stroke="#2f6396" stroke-width="0.7" stroke-opacity="0.8"/>
<line x1="456.40" x2="456.40" y1="420.2" y2="422.8" stroke="#2f6396" stroke-width="0.7" stroke-opacity="0.8"/>
<line x1="633.20" x2="633.20" y1="420.2" y2="422.8" stroke="#2f6396" stroke-width="0.7" stroke-opacity="0.8"/>
<line x1="810.00" x2="810.00" y1="420.2" y2="422.8" stroke="#2f6396" stroke-width="0.7" stroke-opacity="0.8"/>
<line x1="986.80" x2="986.80" y1="420.2" y2="422.8" stroke="#2f6396" stroke-width="0.7" stroke-opacity="0.8"/>
<text transform="translate(9.3,213.4) rotate(-90)" font-size="5.8" fill="#111" stroke="#111" stroke-width="0.12" text-anchor="middle">Price</text>
<rect x="63.3" y="13.3" width="329.4" height="30.7" rx="2.4" fill="#fff" fill-opacity="0.8" stroke="#dcdcdc" stroke-width="1"/>
<line x1="71" x2="105" y1="27.3" y2="27.3" stroke="#b3afbb" stroke-width="1"/>
<text x="120.8" y="33.9" font-size="17.75" stroke="#0a3558" stroke-width="0.22" fill="#0a3558">50 Günlük Hareketli Ortalama</text>
</g>
<g id="macd">
<line x1="54.8" x2="1046.2" y1="624.20" y2="624.20" stroke="#efefef" stroke-width="1"/>
<line x1="54.8" x2="1046.2" y1="574.50" y2="574.50" stroke="#efefef" stroke-width="1"/>
<line x1="54.8" x2="1046.2" y1="524.80" y2="524.80" stroke="#efefef" stroke-width="1"/>
<line x1="54.8" x2="1046.2" y1="475.10" y2="475.10" stroke="#efefef" stroke-width="1"/>
<rect x="99.53" y="570.05" width="2.853" height="4.45" fill="#17998a" fill-opacity="0.28"/>
<rect x="100.03" y="570.05" width="1.85" height="4.45" fill="#17998a"/>
<rect x="102.38" y="570.71" width="2.853" height="3.79" fill="#17998a" fill-opacity="0.28"/>
<rect x="102.88" y="570.71" width="1.85" height="3.79" fill="#17998a"/>
<rect x="105.23" y="569.76" width="2.853" height="4.74" fill="#17998a" fill-opacity="0.28"/>
<rect x="105.73" y="569.76" width="1.85" height="4.74" fill="#17998a"/>
<rect x="108.09" y="570.43" width="2.853" height="4.07" fill="#17998a" fill-opacity="0.28"/>
<rect x="108.59" y="570.43" width="1.85" height="4.07" fill="#17998a"/>
<rect x="110.94" y="571.67" width="2.853" height="2.83" fill="#17998a" fill-opacity="0.28"/>
<rect x="111.44" y="571.67" width="1.85" height="2.83" fill="#17998a"/>
<rect x="119.50" y="572.62" width="2.853" height="1.88" fill="#17998a" fill-opacity="0.28"/>
<rect x="120.00" y="572.62" width="1.85" height="1.88" fill="#17998a"/>
<rect x="122.35" y="573.57" width="2.853" height="0.93" fill="#17998a" fill-opacity="0.28"/>
<rect x="122.85" y="573.57" width="1.85" height="0.93" fill="#17998a"/>
<rect x="125.20" y="574.24" width="2.853" height="0.26" fill="#17998a" fill-opacity="0.28"/>
<rect x="125.70" y="574.24" width="1.85" height="0.26" fill="#17998a"/>
<rect x="128.06" y="573.10" width="2.853" height="1.40" fill="#17998a" fill-opacity="0.28"/>
<rect x="128.56" y="573.10" width="1.85" height="1.40" fill="#17998a"/>
<rect x="130.91" y="570.71" width="2.853" height="3.79" fill="#17998a" fill-opacity="0.28"/>
<rect x="131.41" y="570.71" width="1.85" height="3.79" fill="#17998a"/>
<rect x="139.47" y="570.43" width="2.853" height="4.07" fill="#17998a" fill-opacity="0.28"/>
<rect x="139.97" y="570.43" width="1.85" height="4.07" fill="#17998a"/>
<rect x="142.32" y="571.19" width="2.853" height="3.31" fill="#17998a" fill-opacity="0.28"/>
<rect x="142.82" y="571.19" width="1.85" height="3.31" fill="#17998a"/>
<rect x="145.17" y="571.67" width="2.853" height="2.83" fill="#17998a" fill-opacity="0.28"/>
<rect x="145.68" y="571.67" width="1.85" height="2.83" fill="#17998a"/>
<rect x="148.03" y="574.05" width="2.853" height="0.45" fill="#17998a" fill-opacity="0.28"/>
<rect x="148.53" y="574.05" width="1.85" height="0.45" fill="#17998a"/>
<rect x="150.88" y="573.10" width="2.853" height="1.40" fill="#17998a" fill-opacity="0.28"/>
<rect x="151.38" y="573.10" width="1.85" height="1.40" fill="#17998a"/>
<rect x="159.44" y="573.57" width="2.853" height="0.93" fill="#17998a" fill-opacity="0.28"/>
<rect x="159.94" y="573.57" width="1.85" height="0.93" fill="#17998a"/>
<rect x="162.29" y="574.50" width="2.853" height="0.98" fill="#e5175d" fill-opacity="0.28"/>
<rect x="162.79" y="574.50" width="1.85" height="0.98" fill="#e5175d"/>
<rect x="165.15" y="574.50" width="2.853" height="1.64" fill="#e5175d" fill-opacity="0.28"/>
<rect x="165.65" y="574.50" width="1.85" height="1.64" fill="#e5175d"/>
<rect x="168.00" y="574.50" width="2.853" height="2.40" fill="#e5175d" fill-opacity="0.28"/>
<rect x="168.50" y="574.50" width="1.85" height="2.40" fill="#e5175d"/>
<rect x="170.85" y="574.50" width="2.853" height="5.26" fill="#e5175d" fill-opacity="0.28"/>
<rect x="171.35" y="574.50" width="1.85" height="5.26" fill="#e5175d"/>
<rect x="179.41" y="574.50" width="2.853" height="5.26" fill="#e5175d" fill-opacity="0.28"/>
<rect x="179.91" y="574.50" width="1.85" height="5.26" fill="#e5175d"/>
<rect x="182.26" y="574.50" width="2.853" height="3.83" fill="#e5175d" fill-opacity="0.28"/>
<rect x="182.76" y="574.50" width="1.85" height="3.83" fill="#e5175d"/>
<rect x="185.12" y="574.50" width="2.853" height="2.88" fill="#e5175d" fill-opacity="0.28"/>
<rect x="185.62" y="574.50" width="1.85" height="2.88" fill="#e5175d"/>
<rect x="187.97" y="574.50" width="2.853" height="2.40" fill="#e5175d" fill-opacity="0.28"/>
<rect x="188.47" y="574.50" width="1.85" height="2.40" fill="#e5175d"/>
<rect x="190.82" y="574.50" width="2.853" height="1.93" fill="#e5175d" fill-opacity="0.28"/>
<rect x="191.32" y="574.50" width="1.85" height="1.93" fill="#e5175d"/>
<rect x="199.38" y="574.50" width="2.853" height="1.45" fill="#e5175d" fill-opacity="0.28"/>
<rect x="199.88" y="574.50" width="1.85" height="1.45" fill="#e5175d"/>
<rect x="202.23" y="574.50" width="2.853" height="1.64" fill="#e5175d" fill-opacity="0.28"/>
<rect x="202.74" y="574.50" width="1.85" height="1.64" fill="#e5175d"/>
<rect x="205.09" y="574.50" width="2.853" height="1.93" fill="#e5175d" fill-opacity="0.28"/>
<rect x="205.59" y="574.50" width="1.85" height="1.93" fill="#e5175d"/>
<rect x="207.94" y="574.50" width="2.853" height="1.93" fill="#e5175d" fill-opacity="0.28"/>
<rect x="208.44" y="574.50" width="1.85" height="1.93" fill="#e5175d"/>
<rect x="242.18" y="570.71" width="2.853" height="3.79" fill="#17998a" fill-opacity="0.28"/>
<rect x="242.68" y="570.71" width="1.85" height="3.79" fill="#17998a"/>
<rect x="245.03" y="571.67" width="2.853" height="2.83" fill="#17998a" fill-opacity="0.28"/>
<rect x="245.53" y="571.67" width="1.85" height="2.83" fill="#17998a"/>
<rect x="247.88" y="572.14" width="2.853" height="2.36" fill="#17998a" fill-opacity="0.28"/>
<rect x="248.38" y="572.14" width="1.85" height="2.36" fill="#17998a"/>
<rect x="250.74" y="573.57" width="2.853" height="0.93" fill="#17998a" fill-opacity="0.28"/>
<rect x="251.24" y="573.57" width="1.85" height="0.93" fill="#17998a"/>
<rect x="259.29" y="574.50" width="2.853" height="0.98" fill="#e5175d" fill-opacity="0.28"/>
<rect x="259.80" y="574.50" width="1.85" height="0.98" fill="#e5175d"/>
<rect x="262.15" y="574.50" width="2.853" height="1.93" fill="#e5175d" fill-opacity="0.28"/>
<rect x="262.65" y="574.50" width="1.85" height="1.93" fill="#e5175d"/>
<rect x="265.00" y="574.50" width="2.853" height="2.88" fill="#e5175d" fill-opacity="0.28"/>
<rect x="265.50" y="574.50" width="1.85" height="2.88" fill="#e5175d"/>
<rect x="267.85" y="574.50" width="2.853" height="3.83" fill="#e5175d" fill-opacity="0.28"/>
<rect x="268.35" y="574.50" width="1.85" height="3.83" fill="#e5175d"/>
<rect x="270.71" y="574.50" width="2.853" height="2.40" fill="#e5175d" fill-opacity="0.28"/>
<rect x="271.21" y="574.50" width="1.85" height="2.40" fill="#e5175d"/>
<rect x="290.68" y="571.04" width="2.853" height="3.46" fill="#17998a" fill-opacity="0.28"/>
<rect x="291.18" y="571.04" width="1.85" height="3.46" fill="#17998a"/>
<rect x="299.24" y="572.95" width="2.853" height="1.55" fill="#17998a" fill-opacity="0.28"/>
<rect x="299.74" y="572.95" width="1.85" height="1.55" fill="#17998a"/>
<rect x="307.80" y="574.50" width="2.853" height="0.94" fill="#e5175d" fill-opacity="0.28"/>
<rect x="308.30" y="574.50" width="1.85" height="0.94" fill="#e5175d"/>
<rect x="310.65" y="574.50" width="2.853" height="1.09" fill="#e5175d" fill-opacity="0.28"/>
<rect x="311.15" y="574.50" width="1.85" height="1.09" fill="#e5175d"/>
<rect x="319.21" y="574.50" width="2.853" height="1.67" fill="#e5175d" fill-opacity="0.28"/>
<rect x="319.71" y="574.50" width="1.85" height="1.67" fill="#e5175d"/>
<rect x="322.06" y="574.50" width="2.853" height="2.11" fill="#e5175d" fill-opacity="0.28"/>
<rect x="322.56" y="574.50" width="1.85" height="2.11" fill="#e5175d"/>
<rect x="324.91" y="574.50" width="2.853" height="1.96" fill="#e5175d" fill-opacity="0.28"/>
<rect x="325.42" y="574.50" width="1.85" height="1.96" fill="#e5175d"/>
<rect x="327.77" y="574.50" width="2.853" height="1.67" fill="#e5175d" fill-opacity="0.28"/>
<rect x="328.27" y="574.50" width="1.85" height="1.67" fill="#e5175d"/>
<rect x="347.74" y="571.78" width="2.853" height="2.72" fill="#17998a" fill-opacity="0.28"/>
<rect x="348.24" y="571.78" width="1.85" height="2.72" fill="#17998a"/>
<rect x="350.59" y="569.58" width="2.853" height="4.92" fill="#17998a" fill-opacity="0.28"/>
<rect x="351.09" y="569.58" width="1.85" height="4.92" fill="#17998a"/>
<rect x="362.00" y="565.92" width="2.853" height="8.58" fill="#17998a" fill-opacity="0.28"/>
<rect x="362.50" y="565.92" width="1.85" height="8.58" fill="#17998a"/>
<rect x="364.86" y="563.28" width="2.853" height="11.22" fill="#17998a" fill-opacity="0.28"/>
<rect x="365.36" y="563.28" width="1.85" height="11.22" fill="#17998a"/>
<rect x="367.71" y="562.70" width="2.853" height="11.80" fill="#17998a" fill-opacity="0.28"/>
<rect x="368.21" y="562.70" width="1.85" height="11.80" fill="#17998a"/>
<rect x="370.56" y="561.82" width="2.853" height="12.68" fill="#17998a" fill-opacity="0.28"/>
<rect x="371.06" y="561.82" width="1.85" height="12.68" fill="#17998a"/>
<rect x="379.12" y="561.23" width="2.853" height="13.27" fill="#17998a" fill-opacity="0.28"/>
<rect x="379.62" y="561.23" width="1.85" height="13.27" fill="#17998a"/>
<rect x="381.97" y="561.52" width="2.853" height="12.98" fill="#17998a" fill-opacity="0.28"/>
<rect x="382.47" y="561.52" width="1.85" height="12.98" fill="#17998a"/>
<rect x="384.83" y="562.70" width="2.853" height="11.80" fill="#17998a" fill-opacity="0.28"/>
<rect x="385.33" y="562.70" width="1.85" height="11.80" fill="#17998a"/>
<rect x="387.68" y="564.45" width="2.853" height="10.05" fill="#17998a" fill-opacity="0.28"/>
<rect x="388.18" y="564.45" width="1.85" height="10.05" fill="#17998a"/>
<rect x="390.53" y="566.21" width="2.853" height="8.29" fill="#17998a" fill-opacity="0.28"/>
<rect x="391.03" y="566.21" width="1.85" height="8.29" fill="#17998a"/>
<rect x="399.09" y="566.65" width="2.853" height="7.85" fill="#17998a" fill-opacity="0.28"/>
<rect x="399.59" y="566.65" width="1.85" height="7.85" fill="#17998a"/>
<rect x="401.94" y="567.68" width="2.853" height="6.82" fill="#17998a" fill-opacity="0.28"/>
<rect x="402.45" y="567.68" width="1.85" height="6.82" fill="#17998a"/>
<rect x="404.80" y="569.14" width="2.853" height="5.36" fill="#17998a" fill-opacity="0.28"/>
<rect x="405.30" y="569.14" width="1.85" height="5.36" fill="#17998a"/>
<rect x="407.65" y="571.78" width="2.853" height="2.72" fill="#17998a" fill-opacity="0.28"/>
<rect x="408.15" y="571.78" width="1.85" height="2.72" fill="#17998a"/>
<rect x="410.50" y="573.24" width="2.853" height="1.26" fill="#17998a" fill-opacity="0.28"/>
<rect x="411.01" y="573.24" width="1.85" height="1.26" fill="#17998a"/>
<rect x="419.06" y="572.07" width="2.853" height="2.43" fill="#17998a" fill-opacity="0.28"/>
<rect x="419.56" y="572.07" width="1.85" height="2.43" fill="#17998a"/>
<rect x="421.92" y="571.04" width="2.853" height="3.46" fill="#17998a" fill-opacity="0.28"/>
<rect x="422.42" y="571.04" width="1.85" height="3.46" fill="#17998a"/>
<rect x="424.77" y="572.07" width="2.853" height="2.43" fill="#17998a" fill-opacity="0.28"/>
<rect x="425.27" y="572.07" width="1.85" height="2.43" fill="#17998a"/>
<rect x="427.62" y="572.95" width="2.853" height="1.55" fill="#17998a" fill-opacity="0.28"/>
<rect x="428.12" y="572.95" width="1.85" height="1.55" fill="#17998a"/>
<rect x="430.47" y="573.24" width="2.853" height="1.26" fill="#17998a" fill-opacity="0.28"/>
<rect x="430.98" y="573.24" width="1.85" height="1.26" fill="#17998a"/>
<rect x="439.03" y="572.54" width="2.853" height="1.96" fill="#17998a" fill-opacity="0.28"/>
<rect x="439.54" y="572.54" width="1.85" height="1.96" fill="#17998a"/>
<rect x="441.89" y="571.70" width="2.853" height="2.80" fill="#17998a" fill-opacity="0.28"/>
<rect x="442.39" y="571.70" width="1.85" height="2.80" fill="#17998a"/>
<rect x="444.74" y="570.86" width="2.853" height="3.64" fill="#17998a" fill-opacity="0.28"/>
<rect x="445.24" y="570.86" width="1.85" height="3.64" fill="#17998a"/>
<rect x="447.59" y="571.70" width="2.853" height="2.80" fill="#17998a" fill-opacity="0.28"/>
<rect x="448.09" y="571.70" width="1.85" height="2.80" fill="#17998a"/>
<rect x="450.45" y="571.70" width="2.853" height="2.80" fill="#17998a" fill-opacity="0.28"/>
<rect x="450.95" y="571.70" width="1.85" height="2.80" fill="#17998a"/>
<rect x="459.00" y="570.02" width="2.853" height="4.48" fill="#17998a" fill-opacity="0.28"/>
<rect x="459.51" y="570.02" width="1.85" height="4.48" fill="#17998a"/>
<rect x="461.86" y="568.84" width="2.853" height="5.66" fill="#17998a" fill-opacity="0.28"/>
<rect x="462.36" y="568.84" width="1.85" height="5.66" fill="#17998a"/>
<rect x="464.71" y="566.65" width="2.853" height="7.85" fill="#17998a" fill-opacity="0.28"/>
<rect x="465.21" y="566.65" width="1.85" height="7.85" fill="#17998a"/>
<rect x="467.56" y="569.18" width="2.853" height="5.32" fill="#17998a" fill-opacity="0.28"/>
<rect x="468.06" y="569.18" width="1.85" height="5.32" fill="#17998a"/>
<rect x="470.42" y="570.52" width="2.853" height="3.98" fill="#17998a" fill-opacity="0.28"/>
<rect x="470.92" y="570.52" width="1.85" height="3.98" fill="#17998a"/>
<rect x="478.98" y="567.83" width="2.853" height="6.67" fill="#17998a" fill-opacity="0.28"/>
<rect x="479.48" y="567.83" width="1.85" height="6.67" fill="#17998a"/>
<rect x="481.83" y="566.65" width="2.853" height="7.85" fill="#17998a" fill-opacity="0.28"/>
<rect x="482.33" y="566.65" width="1.85" height="7.85" fill="#17998a"/>
<rect x="484.68" y="565.47" width="2.853" height="9.03" fill="#17998a" fill-opacity="0.28"/>
<rect x="485.18" y="565.47" width="1.85" height="9.03" fill="#17998a"/>
<rect x="487.53" y="562.10" width="2.853" height="12.40" fill="#17998a" fill-opacity="0.28"/>
<rect x="488.04" y="562.10" width="1.85" height="12.40" fill="#17998a"/>
<rect x="490.39" y="564.12" width="2.853" height="10.38" fill="#17998a" fill-opacity="0.28"/>
<rect x="490.89" y="564.12" width="1.85" height="10.38" fill="#17998a"/>
<rect x="498.95" y="562.10" width="2.853" height="12.40" fill="#17998a" fill-opacity="0.28"/>
<rect x="499.45" y="562.10" width="1.85" height="12.40" fill="#17998a"/>
<rect x="501.80" y="570.02" width="2.853" height="4.48" fill="#17998a" fill-opacity="0.28"/>
<rect x="502.30" y="570.02" width="1.85" height="4.48" fill="#17998a"/>
<rect x="504.65" y="574.50" width="2.853" height="1.75" fill="#e5175d" fill-opacity="0.28"/>
<rect x="505.15" y="574.50" width="1.85" height="1.75" fill="#e5175d"/>
<rect x="507.51" y="574.50" width="2.853" height="3.93" fill="#e5175d" fill-opacity="0.28"/>
<rect x="508.01" y="574.50" width="1.85" height="3.93" fill="#e5175d"/>
<rect x="510.36" y="574.50" width="2.853" height="6.46" fill="#e5175d" fill-opacity="0.28"/>
<rect x="510.86" y="574.50" width="1.85" height="6.46" fill="#e5175d"/>
<rect x="518.92" y="574.50" width="2.853" height="11.51" fill="#e5175d" fill-opacity="0.28"/>
<rect x="519.42" y="574.50" width="1.85" height="11.51" fill="#e5175d"/>
<rect x="521.77" y="574.50" width="2.853" height="16.22" fill="#e5175d" fill-opacity="0.28"/>
<rect x="522.27" y="574.50" width="1.85" height="16.22" fill="#e5175d"/>
<rect x="524.62" y="574.50" width="2.853" height="17.91" fill="#e5175d" fill-opacity="0.28"/>
<rect x="525.13" y="574.50" width="1.85" height="17.91" fill="#e5175d"/>
<rect x="527.48" y="574.50" width="2.853" height="18.24" fill="#e5175d" fill-opacity="0.28"/>
<rect x="527.98" y="574.50" width="1.85" height="18.24" fill="#e5175d"/>
<rect x="530.33" y="574.50" width="2.853" height="18.24" fill="#e5175d" fill-opacity="0.28"/>
<rect x="530.83" y="574.50" width="1.85" height="18.24" fill="#e5175d"/>
<rect x="538.89" y="574.50" width="2.853" height="17.40" fill="#e5175d" fill-opacity="0.28"/>
<rect x="539.39" y="574.50" width="1.85" height="17.40" fill="#e5175d"/>
<rect x="541.74" y="574.50" width="2.853" height="17.91" fill="#e5175d" fill-opacity="0.28"/>
<rect x="542.24" y="574.50" width="1.85" height="17.91" fill="#e5175d"/>
<rect x="544.59" y="574.50" width="2.853" height="16.56" fill="#e5175d" fill-opacity="0.28"/>
<rect x="545.10" y="574.50" width="1.85" height="16.56" fill="#e5175d"/>
<rect x="547.45" y="574.50" width="2.853" height="15.21" fill="#e5175d" fill-opacity="0.28"/>
<rect x="547.95" y="574.50" width="1.85" height="15.21" fill="#e5175d"/>
<rect x="550.30" y="574.50" width="2.853" height="13.19" fill="#e5175d" fill-opacity="0.28"/>
<rect x="550.80" y="574.50" width="1.85" height="13.19" fill="#e5175d"/>
<rect x="558.86" y="574.50" width="2.853" height="7.81" fill="#e5175d" fill-opacity="0.28"/>
<rect x="559.36" y="574.50" width="1.85" height="7.81" fill="#e5175d"/>
<rect x="561.71" y="574.50" width="2.853" height="4.44" fill="#e5175d" fill-opacity="0.28"/>
<rect x="562.21" y="574.50" width="1.85" height="4.44" fill="#e5175d"/>
<rect x="564.57" y="573.89" width="2.853" height="0.61" fill="#17998a" fill-opacity="0.28"/>
<rect x="565.07" y="573.89" width="1.85" height="0.61" fill="#17998a"/>
<rect x="567.42" y="571.70" width="2.853" height="2.80" fill="#17998a" fill-opacity="0.28"/>
<rect x="567.92" y="571.70" width="1.85" height="2.80" fill="#17998a"/>
<rect x="570.27" y="573.38" width="2.853" height="1.12" fill="#17998a" fill-opacity="0.28"/>
<rect x="570.77" y="573.38" width="1.85" height="1.12" fill="#17998a"/>
<rect x="581.68" y="574.50" width="2.853" height="1.67" fill="#e5175d" fill-opacity="0.28"/>
<rect x="582.19" y="574.50" width="1.85" height="1.67" fill="#e5175d"/>
<rect x="584.54" y="574.50" width="2.853" height="2.84" fill="#e5175d" fill-opacity="0.28"/>
<rect x="585.04" y="574.50" width="1.85" height="2.84" fill="#e5175d"/>
<rect x="587.39" y="574.50" width="2.853" height="3.87" fill="#e5175d" fill-opacity="0.28"/>
<rect x="587.89" y="574.50" width="1.85" height="3.87" fill="#e5175d"/>
<rect x="590.24" y="574.50" width="2.853" height="3.87" fill="#e5175d" fill-opacity="0.28"/>
<rect x="590.74" y="574.50" width="1.85" height="3.87" fill="#e5175d"/>
<rect x="598.80" y="574.50" width="2.853" height="3.43" fill="#e5175d" fill-opacity="0.28"/>
<rect x="599.30" y="574.50" width="1.85" height="3.43" fill="#e5175d"/>
<rect x="601.65" y="574.50" width="2.853" height="1.67" fill="#e5175d" fill-opacity="0.28"/>
<rect x="602.16" y="574.50" width="1.85" height="1.67" fill="#e5175d"/>
<rect x="610.21" y="572.07" width="2.853" height="2.43" fill="#17998a" fill-opacity="0.28"/>
<rect x="610.72" y="572.07" width="1.85" height="2.43" fill="#17998a"/>
<rect x="618.77" y="570.02" width="2.853" height="4.48" fill="#17998a" fill-opacity="0.28"/>
<rect x="619.27" y="570.02" width="1.85" height="4.48" fill="#17998a"/>
<rect x="621.63" y="571.04" width="2.853" height="3.46" fill="#17998a" fill-opacity="0.28"/>
<rect x="622.13" y="571.04" width="1.85" height="3.46" fill="#17998a"/>
<rect x="624.48" y="571.48" width="2.853" height="3.02" fill="#17998a" fill-opacity="0.28"/>
<rect x="624.98" y="571.48" width="1.85" height="3.02" fill="#17998a"/>
<rect x="627.33" y="571.78" width="2.853" height="2.72" fill="#17998a" fill-opacity="0.28"/>
<rect x="627.83" y="571.78" width="1.85" height="2.72" fill="#17998a"/>
<rect x="630.18" y="572.51" width="2.853" height="1.99" fill="#17998a" fill-opacity="0.28"/>
<rect x="630.69" y="572.51" width="1.85" height="1.99" fill="#17998a"/>
<rect x="638.74" y="573.54" width="2.853" height="0.96" fill="#17998a" fill-opacity="0.28"/>
<rect x="639.25" y="573.54" width="1.85" height="0.96" fill="#17998a"/>
<rect x="641.60" y="574.12" width="2.853" height="0.38" fill="#17998a" fill-opacity="0.28"/>
<rect x="642.10" y="574.12" width="1.85" height="0.38" fill="#17998a"/>
<rect x="647.30" y="573.24" width="2.853" height="1.26" fill="#17998a" fill-opacity="0.28"/>
<rect x="647.80" y="573.24" width="1.85" height="1.26" fill="#17998a"/>
<rect x="650.16" y="571.78" width="2.853" height="2.72" fill="#17998a" fill-opacity="0.28"/>
<rect x="650.66" y="571.78" width="1.85" height="2.72" fill="#17998a"/>
<rect x="658.71" y="571.34" width="2.853" height="3.16" fill="#17998a" fill-opacity="0.28"/>
<rect x="659.22" y="571.34" width="1.85" height="3.16" fill="#17998a"/>
<rect x="661.57" y="571.04" width="2.853" height="3.46" fill="#17998a" fill-opacity="0.28"/>
<rect x="662.07" y="571.04" width="1.85" height="3.46" fill="#17998a"/>
<rect x="664.42" y="570.61" width="2.853" height="3.89" fill="#17998a" fill-opacity="0.28"/>
<rect x="664.92" y="570.61" width="1.85" height="3.89" fill="#17998a"/>
<rect x="667.27" y="570.61" width="2.853" height="3.89" fill="#17998a" fill-opacity="0.28"/>
<rect x="667.78" y="570.61" width="1.85" height="3.89" fill="#17998a"/>
<rect x="670.13" y="570.61" width="2.853" height="3.89" fill="#17998a" fill-opacity="0.28"/>
<rect x="670.63" y="570.61" width="1.85" height="3.89" fill="#17998a"/>
<rect x="678.69" y="568.12" width="2.853" height="6.38" fill="#17998a" fill-opacity="0.28"/>
<rect x="679.19" y="568.12" width="1.85" height="6.38" fill="#17998a"/>
<rect x="681.54" y="566.65" width="2.853" height="7.85" fill="#17998a" fill-opacity="0.28"/>
<rect x="682.04" y="566.65" width="1.85" height="7.85" fill="#17998a"/>
<rect x="684.39" y="566.21" width="2.853" height="8.29" fill="#17998a" fill-opacity="0.28"/>
<rect x="684.89" y="566.21" width="1.85" height="8.29" fill="#17998a"/>
<rect x="690.10" y="565.19" width="2.853" height="9.31" fill="#17998a" fill-opacity="0.28"/>
<rect x="690.60" y="565.19" width="1.85" height="9.31" fill="#17998a"/>
<rect x="698.66" y="571.48" width="2.853" height="3.02" fill="#17998a" fill-opacity="0.28"/>
<rect x="699.16" y="571.48" width="1.85" height="3.02" fill="#17998a"/>
<rect x="704.36" y="574.50" width="2.853" height="3.87" fill="#e5175d" fill-opacity="0.28"/>
<rect x="704.86" y="574.50" width="1.85" height="3.87" fill="#e5175d"/>
<rect x="710.07" y="574.50" width="2.853" height="6.80" fill="#e5175d" fill-opacity="0.28"/>
<rect x="710.57" y="574.50" width="1.85" height="6.80" fill="#e5175d"/>
<rect x="718.63" y="574.50" width="2.853" height="4.60" fill="#e5175d" fill-opacity="0.28"/>
<rect x="719.13" y="574.50" width="1.85" height="4.60" fill="#e5175d"/>
<rect x="721.48" y="574.50" width="2.853" height="1.67" fill="#e5175d" fill-opacity="0.28"/>
<rect x="721.98" y="574.50" width="1.85" height="1.67" fill="#e5175d"/>
<rect x="724.33" y="574.50" width="2.853" height="1.43" fill="#e5175d" fill-opacity="0.28"/>
<rect x="724.84" y="574.50" width="1.85" height="1.43" fill="#e5175d"/>
<rect x="727.19" y="574.50" width="2.853" height="1.01" fill="#e5175d" fill-opacity="0.28"/>
<rect x="727.69" y="574.50" width="1.85" height="1.01" fill="#e5175d"/>
<rect x="738.60" y="571.27" width="2.853" height="3.23" fill="#17998a" fill-opacity="0.28"/>
<rect x="739.10" y="571.27" width="1.85" height="3.23" fill="#17998a"/>
<rect x="741.45" y="569.57" width="2.853" height="4.93" fill="#17998a" fill-opacity="0.28"/>
<rect x="741.95" y="569.57" width="1.85" height="4.93" fill="#17998a"/>
<rect x="744.30" y="568.51" width="2.853" height="5.99" fill="#17998a" fill-opacity="0.28"/>
<rect x="744.81" y="568.51" width="1.85" height="5.99" fill="#17998a"/>
<rect x="747.16" y="568.51" width="2.853" height="5.99" fill="#17998a" fill-opacity="0.28"/>
<rect x="747.66" y="568.51" width="1.85" height="5.99" fill="#17998a"/>
<rect x="750.01" y="569.99" width="2.853" height="4.51" fill="#17998a" fill-opacity="0.28"/>
<rect x="750.51" y="569.99" width="1.85" height="4.51" fill="#17998a"/>
<rect x="761.42" y="566.39" width="2.853" height="8.11" fill="#17998a" fill-opacity="0.28"/>
<rect x="761.92" y="566.39" width="1.85" height="8.11" fill="#17998a"/>
<rect x="764.28" y="562.78" width="2.853" height="11.72" fill="#17998a" fill-opacity="0.28"/>
<rect x="764.78" y="562.78" width="1.85" height="11.72" fill="#17998a"/>
<rect x="767.13" y="558.96" width="2.853" height="15.54" fill="#17998a" fill-opacity="0.28"/>
<rect x="767.63" y="558.96" width="1.85" height="15.54" fill="#17998a"/>
<rect x="769.98" y="555.78" width="2.853" height="18.72" fill="#17998a" fill-opacity="0.28"/>
<rect x="770.48" y="555.78" width="1.85" height="18.72" fill="#17998a"/>
<rect x="778.54" y="551.53" width="2.853" height="22.97" fill="#17998a" fill-opacity="0.28"/>
<rect x="779.04" y="551.53" width="1.85" height="22.97" fill="#17998a"/>
<rect x="781.39" y="551.53" width="2.853" height="22.97" fill="#17998a" fill-opacity="0.28"/>
<rect x="781.90" y="551.53" width="1.85" height="22.97" fill="#17998a"/>
<rect x="784.25" y="545.81" width="2.853" height="28.69" fill="#17998a" fill-opacity="0.28"/>
<rect x="784.75" y="545.81" width="1.85" height="28.69" fill="#17998a"/>
<rect x="787.10" y="543.68" width="2.853" height="30.82" fill="#17998a" fill-opacity="0.28"/>
<rect x="787.60" y="543.68" width="1.85" height="30.82" fill="#17998a"/>
<rect x="789.95" y="564.26" width="2.853" height="10.24" fill="#17998a" fill-opacity="0.28"/>
<rect x="790.45" y="564.26" width="1.85" height="10.24" fill="#17998a"/>
<rect x="798.51" y="574.50" width="2.853" height="5.68" fill="#e5175d" fill-opacity="0.28"/>
<rect x="799.01" y="574.50" width="1.85" height="5.68" fill="#e5175d"/>
<rect x="801.36" y="574.50" width="2.853" height="7.80" fill="#e5175d" fill-opacity="0.28"/>
<rect x="801.87" y="574.50" width="1.85" height="7.80" fill="#e5175d"/>
<rect x="804.22" y="574.50" width="2.853" height="9.50" fill="#e5175d" fill-opacity="0.28"/>
<rect x="804.72" y="574.50" width="1.85" height="9.50" fill="#e5175d"/>
<rect x="807.07" y="574.50" width="2.853" height="11.62" fill="#e5175d" fill-opacity="0.28"/>
<rect x="807.57" y="574.50" width="1.85" height="11.62" fill="#e5175d"/>
<rect x="809.92" y="574.50" width="2.853" height="10.98" fill="#e5175d" fill-opacity="0.28"/>
<rect x="810.43" y="574.50" width="1.85" height="10.98" fill="#e5175d"/>
<rect x="818.48" y="574.50" width="2.853" height="7.37" fill="#e5175d" fill-opacity="0.28"/>
<rect x="818.98" y="574.50" width="1.85" height="7.37" fill="#e5175d"/>
<rect x="821.34" y="574.50" width="2.853" height="6.74" fill="#e5175d" fill-opacity="0.28"/>
<rect x="821.84" y="574.50" width="1.85" height="6.74" fill="#e5175d"/>
<rect x="824.19" y="574.50" width="2.853" height="5.25" fill="#e5175d" fill-opacity="0.28"/>
<rect x="824.69" y="574.50" width="1.85" height="5.25" fill="#e5175d"/>
<rect x="827.04" y="574.50" width="2.853" height="8.22" fill="#e5175d" fill-opacity="0.28"/>
<rect x="827.54" y="574.50" width="1.85" height="8.22" fill="#e5175d"/>
<rect x="829.89" y="574.50" width="2.853" height="7.37" fill="#e5175d" fill-opacity="0.28"/>
<rect x="830.40" y="574.50" width="1.85" height="7.37" fill="#e5175d"/>
<rect x="841.31" y="574.50" width="2.853" height="10.98" fill="#e5175d" fill-opacity="0.28"/>
<rect x="841.81" y="574.50" width="1.85" height="10.98" fill="#e5175d"/>
<rect x="844.16" y="574.50" width="2.853" height="10.34" fill="#e5175d" fill-opacity="0.28"/>
<rect x="844.66" y="574.50" width="1.85" height="10.34" fill="#e5175d"/>
<rect x="847.01" y="574.50" width="2.853" height="10.34" fill="#e5175d" fill-opacity="0.28"/>
<rect x="847.51" y="574.50" width="1.85" height="10.34" fill="#e5175d"/>
<rect x="849.87" y="574.50" width="2.853" height="7.80" fill="#e5175d" fill-opacity="0.28"/>
<rect x="850.37" y="574.50" width="1.85" height="7.80" fill="#e5175d"/>
<rect x="858.42" y="574.50" width="2.853" height="1.43" fill="#e5175d" fill-opacity="0.28"/>
<rect x="858.93" y="574.50" width="1.85" height="1.43" fill="#e5175d"/>
<rect x="864.13" y="572.33" width="2.853" height="2.17" fill="#17998a" fill-opacity="0.28"/>
<rect x="864.63" y="572.33" width="1.85" height="2.17" fill="#17998a"/>
<rect x="866.98" y="572.33" width="2.853" height="2.17" fill="#17998a" fill-opacity="0.28"/>
<rect x="867.49" y="572.33" width="1.85" height="2.17" fill="#17998a"/>
<rect x="869.84" y="571.30" width="2.853" height="3.20" fill="#17998a" fill-opacity="0.28"/>
<rect x="870.34" y="571.30" width="1.85" height="3.20" fill="#17998a"/>
<rect x="878.40" y="569.54" width="2.853" height="4.96" fill="#17998a" fill-opacity="0.28"/>
<rect x="878.90" y="569.54" width="1.85" height="4.96" fill="#17998a"/>
<rect x="884.10" y="574.50" width="2.853" height="3.10" fill="#e5175d" fill-opacity="0.28"/>
<rect x="884.60" y="574.50" width="1.85" height="3.10" fill="#e5175d"/>
<rect x="886.95" y="574.50" width="2.853" height="7.49" fill="#e5175d" fill-opacity="0.28"/>
<rect x="887.46" y="574.50" width="1.85" height="7.49" fill="#e5175d"/>
<rect x="889.81" y="574.50" width="2.853" height="7.79" fill="#e5175d" fill-opacity="0.28"/>
<rect x="890.31" y="574.50" width="1.85" height="7.79" fill="#e5175d"/>
<rect x="898.37" y="574.50" width="2.853" height="8.79" fill="#e5175d" fill-opacity="0.28"/>
<rect x="898.87" y="574.50" width="1.85" height="8.79" fill="#e5175d"/>
<rect x="901.22" y="574.50" width="2.853" height="5.87" fill="#e5175d" fill-opacity="0.28"/>
<rect x="901.72" y="574.50" width="1.85" height="5.87" fill="#e5175d"/>
<rect x="904.07" y="574.50" width="2.853" height="5.87" fill="#e5175d" fill-opacity="0.28"/>
<rect x="904.57" y="574.50" width="1.85" height="5.87" fill="#e5175d"/>
<rect x="906.93" y="574.50" width="2.853" height="8.06" fill="#e5175d" fill-opacity="0.28"/>
<rect x="907.43" y="574.50" width="1.85" height="8.06" fill="#e5175d"/>
<rect x="909.78" y="574.50" width="2.853" height="10.99" fill="#e5175d" fill-opacity="0.28"/>
<rect x="910.28" y="574.50" width="1.85" height="10.99" fill="#e5175d"/>
<rect x="918.34" y="574.50" width="2.853" height="14.65" fill="#e5175d" fill-opacity="0.28"/>
<rect x="918.84" y="574.50" width="1.85" height="14.65" fill="#e5175d"/>
<rect x="921.19" y="574.50" width="2.853" height="16.11" fill="#e5175d" fill-opacity="0.28"/>
<rect x="921.69" y="574.50" width="1.85" height="16.11" fill="#e5175d"/>
<rect x="924.04" y="574.50" width="2.853" height="19.77" fill="#e5175d" fill-opacity="0.28"/>
<rect x="924.55" y="574.50" width="1.85" height="19.77" fill="#e5175d"/>
<rect x="926.90" y="574.50" width="2.853" height="30.74" fill="#e5175d" fill-opacity="0.28"/>
<rect x="927.40" y="574.50" width="1.85" height="30.74" fill="#e5175d"/>
<rect x="929.75" y="574.50" width="2.853" height="37.33" fill="#e5175d" fill-opacity="0.28"/>
<rect x="930.25" y="574.50" width="1.85" height="37.33" fill="#e5175d"/>
<rect x="938.31" y="574.50" width="2.853" height="43.18" fill="#e5175d" fill-opacity="0.28"/>
<rect x="938.81" y="574.50" width="1.85" height="43.18" fill="#e5175d"/>
<rect x="941.16" y="574.50" width="2.853" height="46.84" fill="#e5175d" fill-opacity="0.28"/>
<rect x="941.66" y="574.50" width="1.85" height="46.84" fill="#e5175d"/>
<rect x="944.01" y="574.50" width="2.853" height="41.72" fill="#e5175d" fill-opacity="0.28"/>
<rect x="944.52" y="574.50" width="1.85" height="41.72" fill="#e5175d"/>
<rect x="946.87" y="574.50" width="2.853" height="40.99" fill="#e5175d" fill-opacity="0.28"/>
<rect x="947.37" y="574.50" width="1.85" height="40.99" fill="#e5175d"/>
<rect x="949.72" y="574.50" width="2.853" height="34.11" fill="#e5175d" fill-opacity="0.28"/>
<rect x="950.22" y="574.50" width="1.85" height="34.11" fill="#e5175d"/>
<rect x="958.28" y="574.50" width="2.853" height="26.79" fill="#e5175d" fill-opacity="0.28"/>
<rect x="958.78" y="574.50" width="1.85" height="26.79" fill="#e5175d"/>
<rect x="961.13" y="574.50" width="2.853" height="16.84" fill="#e5175d" fill-opacity="0.28"/>
<rect x="961.63" y="574.50" width="1.85" height="16.84" fill="#e5175d"/>
<rect x="963.99" y="574.50" width="2.853" height="4.40" fill="#e5175d" fill-opacity="0.28"/>
<rect x="964.49" y="574.50" width="1.85" height="4.40" fill="#e5175d"/>
<rect x="978.25" y="572.32" width="2.853" height="2.18" fill="#17998a" fill-opacity="0.28"/>
<rect x="978.75" y="572.32" width="1.85" height="2.18" fill="#17998a"/>
<rect x="981.10" y="570.12" width="2.853" height="4.38" fill="#17998a" fill-opacity="0.28"/>
<rect x="981.61" y="570.12" width="1.85" height="4.38" fill="#17998a"/>
<rect x="983.96" y="565.44" width="2.853" height="9.06" fill="#17998a" fill-opacity="0.28"/>
<rect x="984.46" y="565.44" width="1.85" height="9.06" fill="#17998a"/>
<rect x="986.81" y="561.34" width="2.853" height="13.16" fill="#17998a" fill-opacity="0.28"/>
<rect x="987.31" y="561.34" width="1.85" height="13.16" fill="#17998a"/>
<rect x="989.66" y="559.58" width="2.853" height="14.92" fill="#17998a" fill-opacity="0.28"/>
<rect x="990.16" y="559.58" width="1.85" height="14.92" fill="#17998a"/>
<rect x="998.22" y="558.12" width="2.853" height="16.38" fill="#17998a" fill-opacity="0.28"/>
<rect x="998.72" y="558.12" width="1.85" height="16.38" fill="#17998a"/>
<line x1="54.8" x2="1046.2" y1="574.5" y2="574.5" stroke="#9a9a9a" stroke-width="1.2"/>
<polyline points="100.9,575.48 106.43,573.1 109.29,571.67 112.14,571.19 120.52,570.43 126.9,569.76 132.14,568.52 140.71,567.38 146.43,565.95 152.14,565.29 160.71,564.71 163.57,565.29 166.43,565.67 172.14,567.86 177.86,568.81 180.71,569.48 186.43,571.38 192.14,572.62 199.52,572.62 204.29,573.57 209.05,574.81 218.57,574.52 230.0,573.86 235.71,573.57 239.52,573.1 243.33,571.67 249.05,570.24 256.67,570.05 262.38,570.71 266.19,571.95 270.95,573.57 275.71,573.86 281.43,573.86 285.24,573.57 292.32,571.48 299.65,571.04 306.97,571.04 314.3,571.78 321.62,572.51 328.95,573.97 340.66,573.97 346.52,572.51 352.38,570.31 361.9,568.85 367.03,564.45 372.16,559.33 380.21,555.66 386.07,549.8 391.93,545.12 400.72,542.48 408.05,538.38 419.77,536.62 427.09,535.16 430.0,535.17 440.1,534.16 450.2,531.3 460.3,529.28 468.72,524.56 473.77,522.88 480.51,521.2 483.87,518.67 491.45,511.09 498.18,508.57 504.07,506.04 509.12,507.73 520.07,512.78 531.01,529.61 540.27,534.66 546.16,543.08 552.05,550.32 557.95,552.0 564.68,553.69 573.1,552.0 575.0,552.0 582.32,552.73 591.11,555.66 602.83,557.13 611.62,556.4 620.41,554.93 629.2,552.0 637.99,551.27 646.04,551.27 652.64,550.1 659.96,549.07 668.75,545.41 679.74,542.77 686.33,538.09 692.19,535.6 700.98,534.86 711.23,537.79 722.95,539.55 730.61,540.5 740.16,539.44 751.82,533.93 762.43,531.38 770.92,519.71 780.47,512.28 785.77,496.37 790.01,490.64 792.14,489.58 799.56,492.13 811.23,501.68 819.72,503.8 832.45,510.59 841.99,513.35 851.54,521.2 862.15,521.83 865.0,520.76 872.32,518.86 879.65,517.83 884.04,518.56 891.37,522.96 898.69,524.86 906.02,528.82 911.88,533.65 919.2,536.88 925.06,546.4 930.92,563.24 931.46,565.0 938.78,573.78 943.9,594.27 950.49,615.49 958.54,622.07 962.93,627.2 967.32,628.66 979.76,627.93 984.15,625.0 991.46,616.22 999.51,612.56" fill="none" stroke="#2468d2" stroke-width="1.25" stroke-linejoin="round"/>
<polyline points="100.9,571.0 106.43,567.38 109.29,566.9 112.14,567.86 120.52,568.14 123.57,568.81 126.9,569.29 132.14,564.33 135.0,563.57 140.71,563.1 143.57,562.62 146.43,562.33 152.14,563.29 160.71,563.57 163.57,566.43 166.43,568.33 169.29,569.76 172.14,573.1 175.0,573.86 177.86,574.33 180.71,574.81 183.57,574.52 186.43,574.24 189.29,574.52 192.14,574.81 195.71,575.48 200.48,575.95 204.29,576.43 209.05,576.62 212.86,575.48 218.57,574.52 224.29,573.86 230.0,573.29 235.71,571.95 239.52,571.0 242.38,568.33 244.76,566.62 247.14,566.24 250.0,567.38 252.86,569.1 258.57,570.43 262.38,572.14 265.24,574.24 269.05,576.71 272.86,576.43 277.62,575.48 281.43,574.52 285.24,572.14 291.59,567.38 299.65,568.55 306.97,571.04 314.3,573.97 323.09,576.17 328.95,575.88 333.34,574.41 340.66,573.24 346.52,570.31 352.38,564.45 358.24,561.52 362.64,559.33 367.03,552.73 372.16,546.14 378.75,543.21 384.61,538.09 390.47,535.89 397.79,534.42 403.65,533.4 406.58,533.69 410.98,536.33 416.84,535.16 420.5,534.42 422.7,532.23 427.09,533.4 430.0,533.82 440.1,531.3 445.99,527.93 448.52,527.93 460.3,524.06 465.69,517.32 467.88,517.83 471.25,518.67 479.66,514.97 483.87,508.57 488.59,500.99 491.45,500.15 499.87,494.6 502.39,499.31 505.76,508.57 510.81,515.3 520.07,524.56 524.28,535.51 531.01,548.13 535.22,549.81 540.27,552.0 544.48,558.23 549.53,562.44 552.05,563.28 559.63,560.42 563.84,557.05 568.38,549.31 571.41,550.32 575.0,551.27 579.39,552.73 583.79,556.4 589.65,559.77 595.51,560.35 600.63,560.35 604.3,557.86 611.62,553.47 620.41,550.1 630.66,548.63 637.99,549.8 646.04,551.56 651.17,547.17 657.03,545.7 662.16,544.24 665.82,542.19 671.68,539.84 679.74,535.89 683.4,531.49 687.79,528.12 691.46,526.07 695.12,528.12 700.98,532.23 705.37,538.82 711.23,544.68 720.02,543.65 722.95,541.75 724.24,541.56 729.55,541.56 739.09,536.05 746.52,529.26 751.82,528.62 762.43,522.89 770.92,500.62 779.41,491.07 782.59,484.7 788.32,461.36 792.14,479.4 800.62,497.43 809.11,511.22 811.23,512.92 819.72,511.22 822.9,512.28 825.45,511.22 828.2,516.53 838.81,523.32 849.0,530.32 857.91,524.59 865.33,518.22 869.39,516.37 873.79,514.17 879.36,512.27 882.58,517.83 887.71,528.09 891.37,531.02 899.42,535.41 902.35,533.51 906.75,537.61 911.14,544.93 919.93,552.26 923.59,560.31 926.52,572.03 928.54,586.95 931.46,601.59 939.51,619.15 942.44,633.78 945.37,639.63 948.29,648.41 951.22,650.61 959.27,649.88 962.2,644.76 965.12,633.78 968.05,629.1 973.17,626.76 979.76,624.27 983.41,619.15 987.8,606.71 991.46,600.85 999.51,595.44" fill="none" stroke="#4a1717" stroke-width="1.25" stroke-linejoin="round"/>
<rect x="54.8" y="451.2" width="991.4000000000001" height="1.6" fill="#d9cfa9"/>
<rect x="54.0" y="659.80" width="992.2" height="1.4" fill="#2f6396"/>
<rect x="54.0" y="451.2" width="1.3" height="210.00" fill="#2f6396"/>
<line x1="52.099999999999994" x2="54.0" y1="624.20" y2="624.20" stroke="#2f6396" stroke-width="0.7" stroke-opacity="0.8"/>
<text x="49.9" y="629.55" font-size="14.6" stroke="#0a3558" stroke-width="0.22" fill="#0a3558" text-anchor="end">−100</text>
<line x1="52.099999999999994" x2="54.0" y1="574.50" y2="574.50" stroke="#2f6396" stroke-width="0.7" stroke-opacity="0.8"/>
<text x="49.9" y="579.85" font-size="14.6" stroke="#0a3558" stroke-width="0.22" fill="#0a3558" text-anchor="end">0</text>
<line x1="52.099999999999994" x2="54.0" y1="524.80" y2="524.80" stroke="#2f6396" stroke-width="0.7" stroke-opacity="0.8"/>
<text x="49.9" y="530.15" font-size="14.6" stroke="#0a3558" stroke-width="0.22" fill="#0a3558" text-anchor="end">100</text>
<line x1="52.099999999999994" x2="54.0" y1="475.10" y2="475.10" stroke="#2f6396" stroke-width="0.7" stroke-opacity="0.8"/>
<text x="49.9" y="480.45" font-size="14.6" stroke="#0a3558" stroke-width="0.22" fill="#0a3558" text-anchor="end">200</text>
<line x1="98.10" x2="98.10" y1="660.4" y2="663.0" stroke="#2f6396" stroke-width="0.7" stroke-opacity="0.8"/>
<text x="98.10" y="675.7" font-size="14.75" stroke="#0a3558" stroke-width="0.22" fill="#0a3558" text-anchor="middle">2025-06</text>
<line x1="183.69" x2="183.69" y1="660.4" y2="663.0" stroke="#2f6396" stroke-width="0.7" stroke-opacity="0.8"/>
<text x="183.69" y="675.7" font-size="14.75" stroke="#0a3558" stroke-width="0.22" fill="#0a3558" text-anchor="middle">2025-07</text>
<line x1="272.13" x2="272.13" y1="660.4" y2="663.0" stroke="#2f6396" stroke-width="0.7" stroke-opacity="0.8"/>
<text x="272.13" y="675.7" font-size="14.75" stroke="#0a3558" stroke-width="0.22" fill="#0a3558" text-anchor="middle">2025-08</text>
<line x1="360.58" x2="360.58" y1="660.4" y2="663.0" stroke="#2f6396" stroke-width="0.7" stroke-opacity="0.8"/>
<text x="360.58" y="675.7" font-size="14.75" stroke="#0a3558" stroke-width="0.22" fill="#0a3558" text-anchor="middle">2025-09</text>
<line x1="446.17" x2="446.17" y1="660.4" y2="663.0" stroke="#2f6396" stroke-width="0.7" stroke-opacity="0.8"/>
<text x="446.17" y="675.7" font-size="14.75" stroke="#0a3558" stroke-width="0.22" fill="#0a3558" text-anchor="middle">2025-10</text>
<line x1="534.61" x2="534.61" y1="660.4" y2="663.0" stroke="#2f6396" stroke-width="0.7" stroke-opacity="0.8"/>
<text x="534.61" y="675.7" font-size="14.75" stroke="#0a3558" stroke-width="0.22" fill="#0a3558" text-anchor="middle">2025-11</text>
<line x1="620.20" x2="620.20" y1="660.4" y2="663.0" stroke="#2f6396" stroke-width="0.7" stroke-opacity="0.8"/>
<text x="620.20" y="675.7" font-size="14.75" stroke="#0a3558" stroke-width="0.22" fill="#0a3558" text-anchor="middle">2025-12</text>
<line x1="708.64" x2="708.64" y1="660.4" y2="663.0" stroke="#2f6396" stroke-width="0.7" stroke-opacity="0.8"/>
<text x="708.64" y="675.7" font-size="14.75" stroke="#0a3558" stroke-width="0.22" fill="#0a3558" text-anchor="middle">2026-01</text>
<line x1="797.09" x2="797.09" y1="660.4" y2="663.0" stroke="#2f6396" stroke-width="0.7" stroke-opacity="0.8"/>
<text x="797.09" y="675.7" font-size="14.75" stroke="#0a3558" stroke-width="0.22" fill="#0a3558" text-anchor="middle">2026-02</text>
<line x1="876.97" x2="876.97" y1="660.4" y2="663.0" stroke="#2f6396" stroke-width="0.7" stroke-opacity="0.8"/>
<text x="876.97" y="675.7" font-size="14.75" stroke="#0a3558" stroke-width="0.22" fill="#0a3558" text-anchor="middle">2026-03</text>
<line x1="965.41" x2="965.41" y1="660.4" y2="663.0" stroke="#2f6396" stroke-width="0.7" stroke-opacity="0.8"/>
<text x="965.41" y="675.7" font-size="14.75" stroke="#0a3558" stroke-width="0.22" fill="#0a3558" text-anchor="middle">2026-04</text>
<rect x="914.3" y="457.9" width="125.7" height="38.5" rx="2" fill="#fff" fill-opacity="0.8" stroke="#dcdcdc" stroke-width="1"/>
<line x1="918.6" x2="942.9" y1="467.4" y2="467.4" stroke="#4a1717" stroke-width="1.2"/>
<line x1="918.6" x2="942.9" y1="484.7" y2="484.7" stroke="#2468d2" stroke-width="1.7"/>
<text x="952.4" y="471.2" font-size="11.8" stroke="#0a3558" stroke-width="0.18" fill="#0a3558">MACD</text>
<text x="952.4" y="488.5" font-size="11.8" stroke="#0a3558" stroke-width="0.18" fill="#0a3558">MACD SIGNAL</text>
</g>
</svg>
</body></html>
